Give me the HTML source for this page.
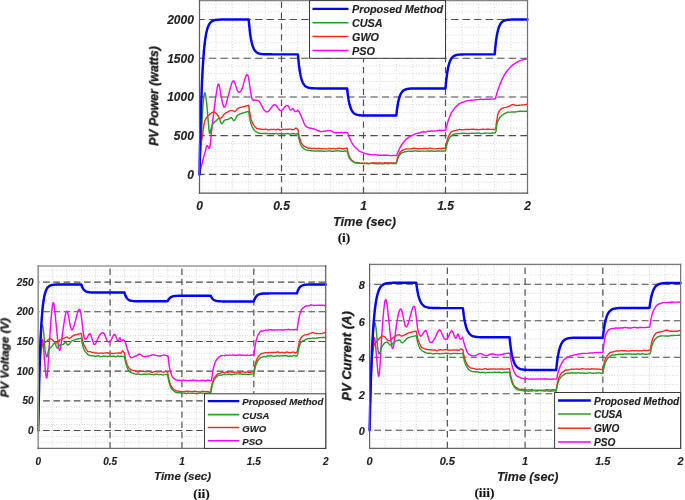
<!DOCTYPE html>
<html><head><meta charset="utf-8"><title>PV charts</title>
<style>
html,body{margin:0;padding:0;background:#fff;width:685px;height:500px;overflow:hidden}
svg{display:block}
text{font-family:"Liberation Sans",sans-serif;font-weight:bold;font-style:italic;fill:#222;stroke:#222;stroke-width:0.15px;filter:url(#nf)}
text.yl{fill:#1a1a1a;stroke:#1a1a1a;stroke-width:0.35px}
text.cap{font-family:"Liberation Serif",serif;font-style:normal;fill:#111}
.mn{stroke:#d2d2d2;stroke-width:1}
.mjh{stroke:#4d4d4d;stroke-width:1.15}
.mjv{stroke:#505050;stroke-width:1.2}
</style></head><body>
<svg width="685" height="500" viewBox="0 0 685 500">
<defs><filter id="nf" x="-5%" y="-20%" width="110%" height="140%"><feOffset dx="0" dy="0"/></filter></defs>
<rect width="685" height="500" fill="#fff"/>
<line x1="215.90" y1="193.20" x2="215.90" y2="0.60" class="mn" stroke-dasharray="0.9 1.95"/>
<line x1="232.30" y1="193.20" x2="232.30" y2="0.60" class="mn" stroke-dasharray="0.9 1.95"/>
<line x1="248.70" y1="193.20" x2="248.70" y2="0.60" class="mn" stroke-dasharray="0.9 1.95"/>
<line x1="265.10" y1="193.20" x2="265.10" y2="0.60" class="mn" stroke-dasharray="0.9 1.95"/>
<line x1="297.90" y1="193.20" x2="297.90" y2="0.60" class="mn" stroke-dasharray="0.9 1.95"/>
<line x1="314.30" y1="193.20" x2="314.30" y2="0.60" class="mn" stroke-dasharray="0.9 1.95"/>
<line x1="330.70" y1="193.20" x2="330.70" y2="0.60" class="mn" stroke-dasharray="0.9 1.95"/>
<line x1="347.10" y1="193.20" x2="347.10" y2="0.60" class="mn" stroke-dasharray="0.9 1.95"/>
<line x1="379.90" y1="193.20" x2="379.90" y2="0.60" class="mn" stroke-dasharray="0.9 1.95"/>
<line x1="396.30" y1="193.20" x2="396.30" y2="0.60" class="mn" stroke-dasharray="0.9 1.95"/>
<line x1="412.70" y1="193.20" x2="412.70" y2="0.60" class="mn" stroke-dasharray="0.9 1.95"/>
<line x1="429.10" y1="193.20" x2="429.10" y2="0.60" class="mn" stroke-dasharray="0.9 1.95"/>
<line x1="461.90" y1="193.20" x2="461.90" y2="0.60" class="mn" stroke-dasharray="0.9 1.95"/>
<line x1="478.30" y1="193.20" x2="478.30" y2="0.60" class="mn" stroke-dasharray="0.9 1.95"/>
<line x1="494.70" y1="193.20" x2="494.70" y2="0.60" class="mn" stroke-dasharray="0.9 1.95"/>
<line x1="511.10" y1="193.20" x2="511.10" y2="0.60" class="mn" stroke-dasharray="0.9 1.95"/>
<line x1="199.50" y1="189.89" x2="527.50" y2="189.89" class="mn" stroke-dasharray="0.9 1.95"/>
<line x1="199.50" y1="182.15" x2="527.50" y2="182.15" class="mn" stroke-dasharray="0.9 1.95"/>
<line x1="199.50" y1="174.40" x2="527.50" y2="174.40" class="mn" stroke-dasharray="0.9 1.95"/>
<line x1="199.50" y1="166.66" x2="527.50" y2="166.66" class="mn" stroke-dasharray="0.9 1.95"/>
<line x1="199.50" y1="158.91" x2="527.50" y2="158.91" class="mn" stroke-dasharray="0.9 1.95"/>
<line x1="199.50" y1="151.16" x2="527.50" y2="151.16" class="mn" stroke-dasharray="0.9 1.95"/>
<line x1="199.50" y1="143.42" x2="527.50" y2="143.42" class="mn" stroke-dasharray="0.9 1.95"/>
<line x1="199.50" y1="135.68" x2="527.50" y2="135.68" class="mn" stroke-dasharray="0.9 1.95"/>
<line x1="199.50" y1="127.93" x2="527.50" y2="127.93" class="mn" stroke-dasharray="0.9 1.95"/>
<line x1="199.50" y1="120.19" x2="527.50" y2="120.19" class="mn" stroke-dasharray="0.9 1.95"/>
<line x1="199.50" y1="112.44" x2="527.50" y2="112.44" class="mn" stroke-dasharray="0.9 1.95"/>
<line x1="199.50" y1="104.70" x2="527.50" y2="104.70" class="mn" stroke-dasharray="0.9 1.95"/>
<line x1="199.50" y1="96.95" x2="527.50" y2="96.95" class="mn" stroke-dasharray="0.9 1.95"/>
<line x1="199.50" y1="89.20" x2="527.50" y2="89.20" class="mn" stroke-dasharray="0.9 1.95"/>
<line x1="199.50" y1="81.46" x2="527.50" y2="81.46" class="mn" stroke-dasharray="0.9 1.95"/>
<line x1="199.50" y1="73.72" x2="527.50" y2="73.72" class="mn" stroke-dasharray="0.9 1.95"/>
<line x1="199.50" y1="65.97" x2="527.50" y2="65.97" class="mn" stroke-dasharray="0.9 1.95"/>
<line x1="199.50" y1="58.22" x2="527.50" y2="58.22" class="mn" stroke-dasharray="0.9 1.95"/>
<line x1="199.50" y1="50.48" x2="527.50" y2="50.48" class="mn" stroke-dasharray="0.9 1.95"/>
<line x1="199.50" y1="42.73" x2="527.50" y2="42.73" class="mn" stroke-dasharray="0.9 1.95"/>
<line x1="199.50" y1="34.99" x2="527.50" y2="34.99" class="mn" stroke-dasharray="0.9 1.95"/>
<line x1="199.50" y1="27.25" x2="527.50" y2="27.25" class="mn" stroke-dasharray="0.9 1.95"/>
<line x1="199.50" y1="19.50" x2="527.50" y2="19.50" class="mn" stroke-dasharray="0.9 1.95"/>
<line x1="199.50" y1="11.75" x2="527.50" y2="11.75" class="mn" stroke-dasharray="0.9 1.95"/>
<line x1="199.50" y1="4.01" x2="527.50" y2="4.01" class="mn" stroke-dasharray="0.9 1.95"/>
<line x1="199.50" y1="174.40" x2="527.50" y2="174.40" class="mjh" stroke-dasharray="7.2 4.33" stroke-dashoffset="2.03"/>
<line x1="199.50" y1="135.68" x2="527.50" y2="135.68" class="mjh" stroke-dasharray="7.2 4.33" stroke-dashoffset="2.03"/>
<line x1="199.50" y1="96.95" x2="527.50" y2="96.95" class="mjh" stroke-dasharray="7.2 4.33" stroke-dashoffset="2.03"/>
<line x1="199.50" y1="58.22" x2="527.50" y2="58.22" class="mjh" stroke-dasharray="7.2 4.33" stroke-dashoffset="2.03"/>
<line x1="199.50" y1="19.50" x2="527.50" y2="19.50" class="mjh" stroke-dasharray="7.2 4.33" stroke-dashoffset="2.03"/>
<line x1="281.50" y1="193.20" x2="281.50" y2="0.60" class="mjv" stroke-dasharray="6.4 4.5" stroke="#4d4d4d" stroke-width="1.15"/>
<line x1="363.50" y1="193.20" x2="363.50" y2="0.60" class="mjv" stroke-dasharray="6.4 4.5" stroke="#4d4d4d" stroke-width="1.15"/>
<line x1="445.50" y1="193.20" x2="445.50" y2="0.60" class="mjv" stroke-dasharray="6.4 4.5" stroke="#4d4d4d" stroke-width="1.15"/>
<path d="M199.5 173.63L200.04 171.51L200.58 169.36L201.12 167.18L201.66 164.99L202.21 162.82L202.75 160.67L203.29 158.58L203.83 156.56L204.37 154.62L204.91 152.79L205.16 151.78L205.4 150.74L205.65 149.71L205.9 148.71L206.14 147.79L206.39 146.99L206.63 146.33L206.88 145.85L207.13 145.59L207.37 145.59L207.6 145.8L207.83 146.17L208.06 146.63L208.29 147.13L208.52 147.62L208.75 148.04L208.98 148.34L209.21 148.47L209.44 148.37L209.67 147.99L209.83 147.41L210 146.49L210.16 145.29L210.32 143.85L210.49 142.24L210.65 140.51L210.82 138.73L210.98 136.94L211.14 135.21L211.31 133.58L211.55 131.3L211.8 129.07L212.05 126.91L212.29 124.8L212.54 122.74L212.78 120.71L213.03 118.71L213.28 116.74L213.52 114.78L213.77 112.83L213.98 111.12L214.19 109.39L214.41 107.65L214.62 105.92L214.83 104.19L215.05 102.49L215.26 100.83L215.47 99.21L215.69 97.66L215.9 96.18L216.16 94.39L216.42 92.62L216.69 90.9L216.95 89.28L217.21 87.81L217.47 86.51L217.74 85.44L218 84.64L218.26 84.15L218.52 84.02L218.79 84.28L219.05 84.91L219.31 85.86L219.57 87.07L219.84 88.46L220.1 89.99L220.36 91.58L220.62 93.19L220.89 94.74L221.15 96.18L221.44 97.71L221.74 99.24L222.03 100.72L222.33 102.13L222.62 103.44L222.92 104.6L223.21 105.58L223.51 106.36L223.8 106.91L224.1 107.17L224.51 107.14L224.92 106.73L225.33 106L225.74 104.99L226.15 103.77L226.56 102.38L226.97 100.87L227.38 99.3L227.79 97.72L228.2 96.18L228.76 94.06L229.32 91.87L229.87 89.67L230.43 87.56L230.99 85.6L231.55 83.87L232.1 82.46L232.66 81.43L233.22 80.86L233.78 80.84L234.17 81.24L234.56 82.01L234.96 83.07L235.35 84.31L235.74 85.68L236.14 87.06L236.53 88.4L236.92 89.59L237.32 90.56L237.71 91.22L238.11 91.63L238.5 91.91L238.89 92.05L239.29 92.07L239.68 91.97L240.07 91.74L240.47 91.38L240.86 90.9L241.25 90.31L241.65 89.59L242.25 88.13L242.86 86.25L243.47 84.11L244.08 81.86L244.68 79.67L245.29 77.7L245.9 76.1L246.5 75.05L247.11 74.69L247.72 75.19L248.14 76.31L248.57 78.17L249 80.59L249.42 83.39L249.85 86.41L250.27 89.46L250.7 92.36L251.13 94.94L251.55 97.02L251.98 98.42L252.28 99.04L252.57 99.51L252.87 99.85L253.16 100.08L253.46 100.22L253.75 100.29L254.05 100.3L254.34 100.28L254.64 100.24L254.93 100.2L255.37 100.17L255.82 100.16L256.26 100.18L256.7 100.24L257.15 100.34L257.59 100.49L258.03 100.7L258.47 100.96L258.92 101.28L259.36 101.67L259.87 102.27L260.38 103.05L260.89 103.96L261.39 104.97L261.9 106.02L262.41 107.07L262.92 108.09L263.43 109.01L263.94 109.81L264.44 110.43L264.76 110.73L265.07 111L265.38 111.24L265.69 111.45L266 111.62L266.31 111.75L266.63 111.84L266.94 111.88L267.25 111.88L267.56 111.82L268.28 111.46L269 110.8L269.72 109.92L270.45 108.91L271.17 107.85L271.89 106.82L272.61 105.9L273.33 105.17L274.05 104.72L274.78 104.62L275.37 104.85L275.96 105.34L276.55 106.03L277.14 106.83L277.73 107.7L278.32 108.55L278.91 109.34L279.5 109.98L280.09 110.42L280.68 110.58L281.4 110.41L282.12 109.93L282.84 109.23L283.57 108.41L284.29 107.55L285.01 106.73L285.73 106.06L286.45 105.62L287.17 105.5L287.9 105.78L288.19 106.07L288.49 106.5L288.78 107.03L289.08 107.61L289.37 108.2L289.67 108.78L289.96 109.29L290.26 109.7L290.55 109.96L290.85 110.04L291.03 109.99L291.21 109.87L291.39 109.7L291.57 109.51L291.75 109.3L291.93 109.08L292.11 108.89L292.29 108.73L292.47 108.61L292.65 108.57L292.9 108.63L293.14 108.82L293.39 109.11L293.64 109.47L293.88 109.87L294.13 110.29L294.37 110.69L294.62 111.05L294.87 111.33L295.11 111.51L295.39 111.6L295.67 111.62L295.95 111.56L296.23 111.44L296.51 111.27L296.78 111.06L297.06 110.82L297.34 110.56L297.62 110.3L297.9 110.04L298.1 110.35L298.29 110.66L298.49 110.96L298.69 111.26L298.88 111.56L299.08 111.87L299.28 112.18L299.47 112.51L299.67 112.85L299.87 113.21L300.16 113.8L300.46 114.44L300.75 115.12L301.05 115.84L301.34 116.57L301.64 117.31L301.93 118.06L302.23 118.79L302.52 119.5L302.82 120.19L303.07 120.75L303.31 121.35L303.56 121.95L303.8 122.55L304.05 123.14L304.3 123.71L304.54 124.23L304.79 124.71L305.03 125.12L305.28 125.45L305.53 125.74L305.77 126L306.02 126.25L306.26 126.49L306.51 126.7L306.76 126.9L307 127.07L307.25 127.23L307.49 127.36L307.74 127.47L308.31 127.67L308.89 127.84L309.46 127.98L310.04 128.1L310.61 128.21L311.18 128.31L311.76 128.41L312.33 128.52L312.91 128.64L313.48 128.78L314.28 129.03L315.09 129.34L315.89 129.69L316.69 130.05L317.5 130.41L318.3 130.75L319.11 131.04L319.91 131.28L320.71 131.44L321.52 131.49L322.32 131.47L323.12 131.4L323.93 131.29L324.73 131.17L325.53 131.03L326.34 130.89L327.14 130.76L327.94 130.66L328.75 130.59L329.55 130.56L330.19 130.63L330.83 130.8L331.47 131.05L332.11 131.35L332.75 131.69L333.39 132.02L334.03 132.32L334.67 132.58L335.31 132.75L335.95 132.81L336.75 132.8L337.56 132.77L338.36 132.73L339.16 132.67L339.97 132.62L340.77 132.56L341.57 132.51L342.38 132.46L343.18 132.43L343.98 132.42L344.26 132.43L344.54 132.43L344.82 132.45L345.1 132.46L345.38 132.48L345.66 132.5L345.94 132.52L346.21 132.54L346.49 132.56L346.77 132.58L347.1 132.58L347.59 132.57L348.09 134.11L348.59 135.55L349.08 136.9L349.58 138.14L350.08 139.27L350.57 140.3L351.07 141.28L351.57 142.23L352.07 143.13L352.56 143.98L353.06 144.75L353.56 145.44L354.05 146.05L354.55 146.62L355.05 147.18L355.54 147.7L356.04 148.14L356.54 148.56L357.04 148.99L357.53 149.48L358.03 150L358.53 150.48L359.02 150.85L359.52 151.14L360.02 151.39L360.51 151.64L361.01 151.88L361.51 152.1L362.01 152.3L362.5 152.48L363 152.67L363.5 152.89L363.99 153.13L364.49 153.34L364.99 153.49L365.48 153.62L365.98 153.73L366.48 153.83L366.98 153.94L367.47 154.03L367.97 154.1L368.47 154.17L368.96 154.25L369.46 154.37L369.96 154.49L370.45 154.6L370.95 154.67L371.45 154.74L371.95 154.82L372.44 154.89L372.94 154.93L373.44 154.89L373.93 154.81L374.43 154.77L374.93 154.8L375.43 154.82L375.92 154.84L376.42 154.86L376.92 154.91L377.41 155.04L377.91 155.19L378.41 155.3L378.9 155.32L379.4 155.32L379.9 155.31L380.4 155.31L380.89 155.31L381.39 155.26L381.89 155.2L382.38 155.17L382.88 155.18L383.38 155.21L383.87 155.24L384.37 155.26L384.87 155.27L385.37 155.28L385.86 155.28L386.36 155.29L386.86 155.3L387.35 155.32L387.85 155.35L388.35 155.36L388.84 155.4L389.34 155.5L389.84 155.61L390.34 155.67L390.83 155.66L391.33 155.65L391.83 155.63L392.32 155.62L392.82 155.61L393.32 155.56L393.81 155.5L394.31 155.48L394.81 155.5L395.31 155.53L395.8 155.57L396.3 155.58L396.3 155.5L396.63 155.51L397.12 154.19L397.62 152.94L398.11 151.76L398.6 150.64L399.1 149.57L399.59 148.56L400.08 147.6L400.58 146.71L401.07 145.91L401.56 145.16L402.06 144.44L402.55 143.71L403.05 142.96L403.54 142.24L404.03 141.58L404.53 141.01L405.02 140.48L405.51 139.98L406.01 139.5L406.5 139.04L406.99 138.61L407.49 138.2L407.98 137.81L408.48 137.46L408.97 137.19L409.46 136.94L409.96 136.68L410.45 136.36L410.94 135.99L411.44 135.63L411.93 135.32L412.43 135.1L412.92 134.93L413.41 134.78L413.91 134.61L414.4 134.4L414.89 134.14L415.39 133.87L415.88 133.66L416.37 133.51L416.87 133.41L417.36 133.32L417.86 133.21L418.35 133.1L418.84 133.05L419.34 133.02L419.83 132.95L420.32 132.77L420.82 132.45L421.31 132.11L421.8 131.89L422.3 131.84L422.79 131.89L423.29 131.97L423.78 131.97L424.27 131.95L424.77 132.04L425.26 132.15L425.75 132.17L426.25 132.03L426.74 131.72L427.23 131.39L427.73 131.2L428.22 131.19L428.72 131.28L429.21 131.38L429.7 131.41L430.2 131.32L430.69 131.17L431.18 131.01L431.68 130.91L432.17 130.91L432.66 130.98L433.16 131.05L433.65 131.07L434.15 131.05L434.64 131.07L435.13 131.09L435.63 131.08L436.12 130.98L436.61 130.77L437.11 130.54L437.6 130.43L438.1 130.4L438.59 130.36L439.08 130.33L439.58 130.3L440.07 130.31L440.56 130.37L441.06 130.44L441.55 130.46L442.04 130.42L442.54 130.38L443.03 130.33L443.53 130.3L444.02 130.27L444.51 130.25L445.01 130.22L445.5 130.2L445.5 130.11L445.66 130.11L446.16 128.02L446.65 126.08L447.15 124.27L447.65 122.59L448.14 121.01L448.64 119.52L449.13 118.12L449.63 116.84L450.12 115.63L450.62 114.5L451.11 113.45L451.61 112.5L452.1 111.71L452.6 111.02L453.09 110.36L453.59 109.65L454.08 108.94L454.58 108.27L455.07 107.65L455.57 107.1L456.07 106.6L456.56 106.14L457.06 105.71L457.55 105.29L458.05 104.8L458.54 104.3L459.04 103.86L459.53 103.54L460.03 103.3L460.52 103.1L461.02 102.89L461.51 102.67L462.01 102.48L462.5 102.32L463 102.16L463.5 101.98L463.99 101.8L464.49 101.62L464.98 101.46L465.48 101.31L465.97 101.13L466.47 100.94L466.96 100.78L467.46 100.68L467.95 100.63L468.45 100.6L468.94 100.56L469.44 100.48L469.93 100.39L470.43 100.32L470.92 100.24L471.42 100.19L471.92 100.17L472.41 100.17L472.91 100.14L473.4 100.09L473.9 100L474.39 99.91L474.89 99.84L475.38 99.8L475.88 99.76L476.37 99.73L476.87 99.69L477.36 99.66L477.86 99.62L478.35 99.58L478.85 99.54L479.35 99.5L479.84 99.41L480.34 99.31L480.83 99.25L481.33 99.27L481.82 99.4L482.32 99.55L482.81 99.61L483.31 99.56L483.8 99.46L484.3 99.35L484.79 99.28L485.29 99.27L485.78 99.26L486.28 99.26L486.77 99.25L487.27 99.24L487.77 99.26L488.26 99.29L488.76 99.29L489.25 99.25L489.75 99.17L490.24 99.09L490.74 99.05L491.23 99.05L491.73 99.08L492.22 99.11L492.72 99.11L493.21 99.07L493.71 99L494.2 98.93L494.7 98.89L495.36 98.89L495.85 96.99L496.35 95.17L496.84 93.43L497.33 91.81L497.83 90.31L498.32 88.88L498.82 87.47L499.31 86.12L499.81 84.83L500.3 83.57L500.8 82.37L501.29 81.21L501.78 80.08L502.28 79.01L502.77 78L503.27 76.99L503.76 75.99L504.26 75.06L504.75 74.22L505.25 73.46L505.74 72.75L506.24 72.07L506.73 71.38L507.22 70.72L507.72 70.09L508.21 69.49L508.71 68.92L509.2 68.38L509.7 67.87L510.19 67.38L510.69 66.9L511.18 66.43L511.68 65.98L512.17 65.55L512.66 65.15L513.16 64.77L513.65 64.4L514.15 64.05L514.64 63.71L515.14 63.38L515.63 63.06L516.13 62.75L516.62 62.47L517.12 62.17L517.61 61.88L518.1 61.61L518.6 61.37L519.09 61.11L519.59 60.86L520.08 60.62L520.58 60.44L521.07 60.34L521.57 60.27L522.06 60.17L522.55 60.01L523.05 59.85L523.54 59.69L524.04 59.54L524.53 59.41L525.03 59.29L525.52 59.18L526.02 59.08L526.51 58.97L527.01 58.86L527.5 58.76" fill="none" stroke="#ff00ff" stroke-width="1.4" stroke-linejoin="round" stroke-linecap="round"/>
<path d="M199.5 174.4L199.6 171.98L199.7 169.41L199.8 166.76L199.89 164.08L199.99 161.45L200.09 158.92L200.19 156.57L200.29 154.45L200.39 152.62L200.48 151.16L200.68 148.8L200.88 146.72L201.07 144.87L201.27 143.22L201.47 141.73L201.66 140.35L201.86 139.05L202.06 137.79L202.26 136.52L202.45 135.21L202.7 133.5L202.94 131.74L203.19 129.99L203.44 128.27L203.68 126.63L203.93 125.09L204.17 123.71L204.42 122.5L204.67 121.53L204.91 120.8L205.39 119.75L205.86 118.82L206.34 118L206.81 117.27L207.29 116.64L207.77 116.08L208.24 115.59L208.72 115.14L209.19 114.75L209.67 114.38L210.13 114.03L210.59 113.68L211.05 113.35L211.5 113.03L211.96 112.74L212.42 112.49L212.88 112.28L213.34 112.11L213.8 112.01L214.26 111.98L214.56 112.03L214.85 112.17L215.15 112.38L215.44 112.66L215.74 112.98L216.03 113.34L216.33 113.71L216.62 114.08L216.92 114.43L217.21 114.76L217.51 115.11L217.8 115.52L218.1 115.97L218.39 116.44L218.69 116.89L218.98 117.32L219.28 117.69L219.57 117.99L219.87 118.18L220.16 118.25L220.64 118.15L221.12 117.86L221.59 117.43L222.07 116.9L222.54 116.3L223.02 115.66L223.49 115.04L223.97 114.46L224.44 113.97L224.92 113.6L225.64 113.15L226.36 112.7L227.08 112.26L227.81 111.84L228.53 111.45L229.25 111.11L229.97 110.83L230.69 110.61L231.41 110.47L232.14 110.43L232.37 110.46L232.6 110.54L232.82 110.66L233.05 110.81L233.28 110.97L233.51 111.13L233.74 111.28L233.97 111.4L234.2 111.48L234.43 111.51L234.84 111.43L235.25 111.2L235.66 110.86L236.07 110.45L236.48 109.98L236.89 109.5L237.3 109.03L237.71 108.6L238.12 108.26L238.53 108.03L239.06 107.82L239.58 107.65L240.11 107.5L240.63 107.36L241.16 107.24L241.68 107.12L242.21 107.01L242.73 106.89L243.26 106.77L243.78 106.63L244.24 106.5L244.7 106.37L245.16 106.24L245.62 106.11L246.08 105.98L246.54 105.85L246.99 105.71L247.45 105.58L247.91 105.45L248.37 105.31L248.7 105.31L249.19 109.06L249.68 112.24L250.18 114.96L250.67 117.26L251.16 119.18L251.65 120.75L252.14 122.04L252.64 123.16L253.13 124.13L253.62 124.94L254.11 125.63L254.6 126.22L255.1 126.79L255.59 127.37L256.08 127.88L256.57 128.24L257.06 128.46L257.56 128.58L258.05 128.66L258.54 128.77L259.03 128.89L259.52 128.99L260.02 129.06L260.51 129.13L261 129.2L261.49 129.26L261.98 129.31L262.48 129.36L262.97 129.39L263.46 129.42L263.95 129.44L264.44 129.46L264.94 129.42L265.43 129.28L265.92 129.14L266.41 129.09L266.9 129.23L267.4 129.55L267.89 129.86L268.38 130L268.87 129.92L269.36 129.73L269.86 129.54L270.35 129.46L270.84 129.44L271.33 129.4L271.82 129.35L272.32 129.33L272.81 129.35L273.3 129.4L273.79 129.45L274.28 129.47L274.78 129.51L275.27 129.61L275.76 129.71L276.25 129.75L276.74 129.67L277.24 129.47L277.73 129.27L278.22 129.19L278.71 129.33L279.2 129.67L279.7 130.01L280.19 130.15L280.68 130.04L281.17 129.79L281.66 129.53L282.16 129.42L282.65 129.4L283.14 129.37L283.63 129.33L284.12 129.31L284.62 129.33L285.11 129.35L285.6 129.38L286.09 129.39L286.58 129.37L287.08 129.3L287.57 129.24L288.06 129.21L288.55 129.2L289.04 129.17L289.54 129.14L290.03 129.13L290.52 129.19L291.01 129.33L291.5 129.47L292 129.53L292.49 129.52L292.98 129.49L293.47 129.45L293.96 129.34L294.46 129.1L294.95 128.7L295.44 128.28L295.93 128.1L296.42 128.31L296.92 128.79L297.41 129.26L297.9 129.52L297.9 129.35L298.39 132.38L298.88 134.89L299.38 136.98L299.87 138.75L300.36 140.26L300.85 141.58L301.34 142.71L301.84 143.65L302.33 144.42L302.82 145.03L303.31 145.52L303.8 145.96L304.3 146.3L304.79 146.48L305.28 146.62L305.77 146.8L306.26 147.09L306.76 147.48L307.25 147.84L307.74 148.05L308.23 148.11L308.72 148.07L309.22 148.03L309.71 148.04L310.2 148.16L310.69 148.37L311.18 148.57L311.68 148.67L312.17 148.62L312.66 148.48L313.15 148.33L313.64 148.27L314.14 148.33L314.63 148.43L315.12 148.54L315.61 148.59L316.1 148.57L316.6 148.53L317.09 148.49L317.58 148.47L318.07 148.46L318.56 148.43L319.06 148.4L319.55 148.39L320.04 148.44L320.53 148.56L321.02 148.67L321.52 148.72L322.01 148.74L322.5 148.79L322.99 148.85L323.48 148.87L323.98 148.86L324.47 148.83L324.96 148.79L325.45 148.78L325.94 148.8L326.44 148.84L326.93 148.88L327.42 148.89L327.91 148.83L328.4 148.67L328.9 148.52L329.39 148.45L329.88 148.5L330.37 148.6L330.86 148.71L331.36 148.75L331.85 148.71L332.34 148.61L332.83 148.5L333.32 148.46L333.82 148.5L334.31 148.61L334.8 148.72L335.29 148.76L335.78 148.73L336.28 148.63L336.77 148.54L337.26 148.5L337.75 148.45L338.24 148.33L338.74 148.21L339.23 148.16L339.72 148.2L340.21 148.31L340.7 148.42L341.2 148.46L341.69 148.55L342.18 148.75L342.67 148.95L343.16 149.04L343.66 148.94L344.15 148.69L344.64 148.44L345.13 148.34L345.62 148.33L346.12 148.3L346.61 148.27L347.1 148.26L347.1 148.53L347.6 150.76L348.09 152.63L348.59 154.19L349.09 155.51L349.58 156.66L350.08 157.72L350.58 158.66L351.08 159.41L351.57 159.99L352.07 160.45L352.57 160.82L353.06 161.16L353.56 161.55L354.06 161.98L354.55 162.36L355.05 162.59L355.55 162.64L356.05 162.56L356.54 162.49L357.04 162.53L357.54 162.65L358.03 162.79L358.53 162.91L359.03 162.97L359.52 163.05L360.02 163.15L360.52 163.24L361.02 163.27L361.51 163.27L362.01 163.24L362.51 163.22L363 163.22L363.5 163.21L364 163.19L364.49 163.18L364.99 163.18L365.49 163.16L365.98 163.12L366.48 163.1L366.98 163.1L367.48 163.21L367.97 163.36L368.47 163.48L368.97 163.49L369.46 163.43L369.96 163.34L370.46 163.27L370.95 163.25L371.45 163.11L371.95 162.92L372.45 162.79L372.94 162.78L373.44 162.84L373.94 162.93L374.43 162.98L374.93 162.99L375.43 162.97L375.92 162.95L376.42 162.94L376.92 162.94L377.42 162.92L377.91 162.89L378.41 162.87L378.91 162.87L379.4 162.89L379.9 162.91L380.4 162.92L380.89 162.94L381.39 163L381.89 163.08L382.38 163.13L382.88 163.1L383.38 162.98L383.88 162.83L384.37 162.75L384.87 162.76L385.37 162.8L385.86 162.86L386.36 162.88L386.86 162.89L387.35 162.9L387.85 162.91L388.35 162.91L388.85 162.93L389.34 162.99L389.84 163.06L390.34 163.09L390.83 163.07L391.33 163.01L391.83 162.95L392.32 162.92L392.82 162.92L393.32 162.92L393.82 162.91L394.31 162.91L394.81 162.94L395.31 163.02L395.8 163.1L396.3 163.13L396.3 163.09L396.79 160.86L397.28 158.95L397.78 157.32L398.27 155.94L398.76 154.79L399.25 153.82L399.74 153.01L400.24 152.32L400.73 151.74L401.22 151.26L401.71 150.88L402.2 150.53L402.7 150.22L403.19 149.95L403.68 149.72L404.17 149.53L404.66 149.36L405.16 149.2L405.65 149.05L406.14 148.95L406.63 148.89L407.12 148.89L407.62 148.89L408.11 148.87L408.6 148.84L409.09 148.85L409.58 148.85L410.08 148.84L410.57 148.82L411.06 148.78L411.55 148.74L412.04 148.72L412.54 148.63L413.03 148.43L413.52 148.22L414.01 148.14L414.5 148.19L415 148.31L415.49 148.44L415.98 148.5L416.47 148.54L416.96 148.64L417.46 148.74L417.95 148.79L418.44 148.77L418.93 148.73L419.42 148.68L419.92 148.67L420.41 148.67L420.9 148.67L421.39 148.67L421.88 148.67L422.38 148.64L422.87 148.57L423.36 148.5L423.85 148.47L424.34 148.46L424.84 148.44L425.33 148.42L425.82 148.42L426.31 148.44L426.8 148.5L427.3 148.57L427.79 148.59L428.28 148.52L428.77 148.35L429.26 148.18L429.76 148.11L430.25 148.15L430.74 148.25L431.23 148.34L431.72 148.38L432.22 148.45L432.71 148.62L433.2 148.78L433.69 148.85L434.18 148.85L434.68 148.85L435.17 148.86L435.66 148.86L436.15 148.83L436.64 148.76L437.14 148.69L437.63 148.67L438.12 148.63L438.61 148.56L439.1 148.48L439.6 148.45L440.09 148.45L440.58 148.44L441.07 148.43L441.56 148.43L442.06 148.4L442.55 148.33L443.04 148.26L443.53 148.24L444.02 148.24L444.52 148.24L445.01 148.24L445.5 148.24L445.5 148.53L445.99 145.6L446.48 143.11L446.98 141L447.47 139.21L447.96 137.72L448.45 136.53L448.94 135.56L449.44 134.71L449.93 133.9L450.42 133.1L450.91 132.38L451.4 131.85L451.9 131.51L452.39 131.33L452.88 131.19L453.37 131.02L453.86 130.83L454.36 130.69L454.85 130.59L455.34 130.48L455.83 130.35L456.32 130.22L456.82 130.1L457.31 130.02L457.8 129.91L458.29 129.75L458.78 129.59L459.28 129.51L459.77 129.52L460.26 129.59L460.75 129.66L461.24 129.68L461.74 129.69L462.23 129.75L462.72 129.81L463.21 129.83L463.7 129.77L464.2 129.63L464.69 129.5L465.18 129.44L465.67 129.44L466.16 129.45L466.66 129.46L467.15 129.46L467.64 129.46L468.13 129.48L468.62 129.5L469.12 129.5L469.61 129.48L470.1 129.42L470.59 129.36L471.08 129.33L471.58 129.3L472.07 129.24L472.56 129.18L473.05 129.15L473.54 129.21L474.04 129.34L474.53 129.48L475.02 129.53L475.51 129.53L476 129.52L476.5 129.51L476.99 129.51L477.48 129.53L477.97 129.6L478.46 129.67L478.96 129.69L479.45 129.64L479.94 129.52L480.43 129.39L480.92 129.34L481.42 129.33L481.91 129.3L482.4 129.26L482.89 129.25L483.38 129.27L483.88 129.32L484.37 129.37L484.86 129.39L485.35 129.38L485.84 129.34L486.34 129.3L486.83 129.29L487.32 129.29L487.81 129.29L488.3 129.3L488.8 129.3L489.29 129.31L489.78 129.33L490.27 129.35L490.76 129.36L491.26 129.36L491.75 129.35L492.24 129.34L492.73 129.33L493.22 129.36L493.72 129.44L494.21 129.52L494.7 129.55L494.7 129.4L494.78 129.34L494.86 129.28L494.95 129.22L495.03 129.17L495.11 129.11L495.19 129.05L495.27 128.98L495.36 128.9L495.44 128.81L495.52 128.7L495.65 128.37L495.78 127.79L495.91 127.01L496.04 126.07L496.18 125.03L496.31 123.93L496.44 122.84L496.57 121.79L496.7 120.84L496.83 120.03L497 119.12L497.16 118.21L497.32 117.29L497.49 116.4L497.65 115.56L497.82 114.76L497.98 114.05L498.14 113.42L498.31 112.91L498.47 112.52L498.83 111.85L499.19 111.26L499.55 110.73L499.92 110.26L500.28 109.85L500.64 109.49L501 109.18L501.36 108.91L501.72 108.68L502.08 108.49L502.57 108.27L503.06 108.09L503.56 107.93L504.05 107.8L504.54 107.67L505.03 107.56L505.52 107.44L506.02 107.32L506.51 107.18L507 107.02L507.33 106.9L507.66 106.77L507.98 106.63L508.31 106.49L508.64 106.34L508.97 106.19L509.3 106.05L509.62 105.9L509.95 105.76L510.28 105.62L510.56 105.5L510.84 105.37L511.12 105.22L511.4 105.08L511.67 104.94L511.95 104.81L512.23 104.7L512.51 104.62L512.79 104.56L513.07 104.54L513.36 104.57L513.66 104.64L513.95 104.74L514.25 104.87L514.54 105L514.84 105.14L515.13 105.27L515.43 105.37L515.72 105.44L516.02 105.47L516.35 105.47L516.68 105.45L517 105.44L517.33 105.41L517.66 105.39L517.99 105.36L518.32 105.33L518.64 105.29L518.97 105.26L519.3 105.24L519.56 105.22L519.82 105.19L520.09 105.17L520.35 105.15L520.61 105.13L520.87 105.1L521.14 105.08L521.4 105.05L521.66 105.03L521.92 105L522.24 104.98L522.55 104.95L522.86 104.92L523.17 104.9L523.48 104.87L523.79 104.84L524.11 104.81L524.42 104.78L524.73 104.74L525.04 104.7L525.29 104.65L525.53 104.6L525.78 104.53L526.02 104.46L526.27 104.39L526.52 104.31L526.76 104.23L527.01 104.15L527.25 104.07L527.5 104" fill="none" stroke="#ff2a2a" stroke-width="1.4" stroke-linejoin="round" stroke-linecap="round"/>
<path d="M199.5 174.4L199.7 170.34L199.89 166.24L200.09 162.11L200.29 157.97L200.48 153.84L200.68 149.75L200.88 145.71L201.07 141.75L201.27 137.88L201.47 134.13L201.66 130.31L201.86 126.33L202.06 122.27L202.26 118.23L202.45 114.31L202.65 110.62L202.85 107.25L203.04 104.29L203.24 101.86L203.44 100.05L203.58 98.95L203.73 97.88L203.88 96.85L204.03 95.9L204.17 95.03L204.32 94.27L204.47 93.64L204.62 93.17L204.76 92.87L204.91 92.77L205.08 92.92L205.24 93.36L205.4 94.04L205.57 94.93L205.73 95.99L205.9 97.17L206.06 98.44L206.22 99.75L206.39 101.08L206.55 102.37L206.72 103.77L206.88 105.42L207.04 107.24L207.21 109.21L207.37 111.25L207.54 113.34L207.7 115.4L207.86 117.39L208.03 119.26L208.19 120.96L208.34 122.48L208.49 124.11L208.63 125.8L208.78 127.47L208.93 129.07L209.08 130.52L209.23 131.76L209.37 132.73L209.52 133.36L209.67 133.58L209.8 133.49L209.93 133.25L210.06 132.87L210.19 132.39L210.32 131.85L210.46 131.26L210.59 130.66L210.72 130.08L210.85 129.55L210.98 129.09L211.14 128.57L211.31 128.04L211.47 127.51L211.64 126.98L211.8 126.46L211.96 125.97L212.13 125.52L212.29 125.11L212.46 124.75L212.62 124.44L212.95 123.94L213.28 123.49L213.6 123.09L213.93 122.73L214.26 122.4L214.59 122.1L214.92 121.81L215.24 121.53L215.57 121.25L215.9 120.96L216.23 120.65L216.56 120.32L216.88 119.97L217.21 119.64L217.54 119.31L217.87 119.02L218.2 118.77L218.52 118.58L218.85 118.45L219.18 118.4L219.43 118.55L219.67 118.95L219.92 119.54L220.16 120.26L220.41 121.04L220.66 121.82L220.9 122.53L221.15 123.12L221.39 123.52L221.64 123.67L221.97 123.58L222.3 123.33L222.62 122.96L222.95 122.51L223.28 122.01L223.61 121.5L223.94 121L224.26 120.57L224.59 120.24L224.92 120.03L225.25 119.91L225.58 119.82L225.9 119.74L226.23 119.68L226.56 119.62L226.89 119.56L227.22 119.5L227.54 119.43L227.87 119.35L228.2 119.26L228.51 119.13L228.82 118.96L229.13 118.75L229.45 118.54L229.76 118.32L230.07 118.1L230.38 117.92L230.69 117.77L231 117.67L231.32 117.63L231.56 117.71L231.81 117.94L232.05 118.26L232.3 118.67L232.55 119.1L232.79 119.54L233.04 119.94L233.28 120.27L233.53 120.49L233.78 120.57L234.17 120.45L234.56 120.1L234.96 119.59L235.35 118.95L235.74 118.23L236.14 117.49L236.53 116.77L236.92 116.12L237.32 115.59L237.71 115.23L238.27 114.87L238.83 114.56L239.38 114.27L239.94 114.02L240.5 113.79L241.06 113.58L241.62 113.38L242.17 113.19L242.73 113.01L243.29 112.83L243.78 112.67L244.27 112.53L244.76 112.39L245.26 112.26L245.75 112.13L246.24 112.01L246.73 111.89L247.22 111.76L247.72 111.64L248.21 111.51L248.7 111.51L249.19 114.9L249.68 117.78L250.18 120.23L250.67 122.3L251.16 124.03L251.65 125.43L252.14 126.58L252.64 127.57L253.13 128.46L253.62 129.26L254.11 129.97L254.6 130.54L255.1 130.98L255.59 131.34L256.08 131.64L256.57 131.9L257.06 132.18L257.56 132.48L258.05 132.75L258.54 132.94L259.03 133.06L259.52 133.18L260.02 133.27L260.51 133.35L261 133.41L261.49 133.44L261.98 133.46L262.48 133.49L262.97 133.52L263.46 133.54L263.95 133.55L264.44 133.57L264.94 133.57L265.43 133.55L265.92 133.52L266.41 133.51L266.9 133.53L267.4 133.56L267.89 133.59L268.38 133.61L268.87 133.63L269.36 133.68L269.86 133.72L270.35 133.74L270.84 133.76L271.33 133.79L271.82 133.82L272.32 133.84L272.81 133.83L273.3 133.81L273.79 133.79L274.28 133.78L274.78 133.74L275.27 133.65L275.76 133.56L276.25 133.52L276.74 133.57L277.24 133.69L277.73 133.8L278.22 133.85L278.71 133.83L279.2 133.77L279.7 133.72L280.19 133.69L280.68 133.69L281.17 133.68L281.66 133.68L282.16 133.68L282.65 133.72L283.14 133.83L283.63 133.94L284.12 133.98L284.62 133.95L285.11 133.87L285.6 133.79L286.09 133.75L286.58 133.73L287.08 133.66L287.57 133.59L288.06 133.57L288.55 133.65L289.04 133.83L289.54 134.01L290.03 134.09L290.52 134.05L291.01 133.96L291.5 133.87L292 133.84L292.49 133.84L292.98 133.83L293.47 133.82L293.96 133.81L294.46 133.83L294.95 133.87L295.44 133.92L295.93 133.93L296.42 133.91L296.92 133.84L297.41 133.77L297.9 133.74L297.9 133.82L298.39 136.45L298.88 138.68L299.38 140.58L299.87 142.19L300.36 143.56L300.85 144.76L301.34 145.79L301.84 146.66L302.33 147.33L302.82 147.81L303.31 148.18L303.8 148.55L304.3 148.92L304.79 149.23L305.28 149.49L305.77 149.71L306.26 149.89L306.76 150.03L307.25 150.15L307.74 150.25L308.23 150.33L308.72 150.39L309.22 150.43L309.71 150.47L310.2 150.54L310.69 150.64L311.18 150.74L311.68 150.79L312.17 150.82L312.66 150.86L313.15 150.89L313.64 150.91L314.14 150.95L314.63 151.04L315.12 151.13L315.61 151.17L316.1 151.13L316.6 151.03L317.09 150.93L317.58 150.89L318.07 150.92L318.56 150.99L319.06 151.06L319.55 151.09L320.04 151.09L320.53 151.08L321.02 151.08L321.52 151.07L322.01 151.09L322.5 151.14L322.99 151.18L323.48 151.2L323.98 151.2L324.47 151.18L324.96 151.16L325.45 151.16L325.94 151.15L326.44 151.13L326.93 151.1L327.42 151.09L327.91 151.05L328.4 150.95L328.9 150.85L329.39 150.81L329.88 150.89L330.37 151.07L330.86 151.25L331.36 151.32L331.85 151.31L332.34 151.28L332.83 151.25L333.32 151.24L333.82 151.2L334.31 151.1L334.8 151.01L335.29 150.97L335.78 150.95L336.28 150.88L336.77 150.81L337.26 150.79L337.75 150.81L338.24 150.85L338.74 150.9L339.23 150.92L339.72 150.98L340.21 151.11L340.7 151.25L341.2 151.3L341.69 151.32L342.18 151.35L342.67 151.39L343.16 151.4L343.66 151.33L344.15 151.18L344.64 151.02L345.13 150.95L345.62 150.98L346.12 151.04L346.61 151.1L347.1 151.12L347.1 151.01L347.6 152.97L348.09 154.63L348.59 156.04L349.09 157.23L349.58 158.21L350.08 158.99L350.58 159.62L351.08 160.17L351.57 160.66L352.07 161.06L352.57 161.42L353.06 161.72L353.56 162.01L354.06 162.28L354.55 162.51L355.05 162.68L355.55 162.81L356.05 162.92L356.54 163.01L357.04 163.09L357.54 163.15L358.03 163.19L358.53 163.23L359.03 163.27L359.52 163.26L360.02 163.22L360.52 163.19L361.02 163.2L361.51 163.25L362.01 163.32L362.51 163.38L363 163.4L363.5 163.42L364 163.43L364.49 163.44L364.99 163.45L365.49 163.45L365.98 163.45L366.48 163.45L366.98 163.47L367.48 163.55L367.97 163.68L368.47 163.78L368.97 163.78L369.46 163.66L369.96 163.49L370.46 163.37L370.95 163.36L371.45 163.37L371.95 163.39L372.45 163.4L372.94 163.41L373.44 163.43L373.94 163.45L374.43 163.47L374.93 163.49L375.43 163.6L375.92 163.75L376.42 163.85L376.92 163.85L377.42 163.79L377.91 163.71L378.41 163.66L378.91 163.64L379.4 163.57L379.9 163.48L380.4 163.43L380.89 163.46L381.39 163.58L381.89 163.74L382.38 163.83L382.88 163.82L383.38 163.74L383.88 163.64L384.37 163.59L384.87 163.57L385.37 163.51L385.86 163.44L386.36 163.4L386.86 163.43L387.35 163.55L387.85 163.69L388.35 163.76L388.85 163.71L389.34 163.56L389.84 163.39L390.34 163.31L390.83 163.33L391.33 163.38L391.83 163.44L392.32 163.47L392.82 163.49L393.32 163.52L393.82 163.56L394.31 163.58L394.81 163.57L395.31 163.54L395.8 163.52L396.3 163.51L396.3 163.56L396.79 161.64L397.28 160.01L397.78 158.62L398.27 157.45L398.76 156.46L399.25 155.64L399.74 154.95L400.24 154.36L400.73 153.83L401.22 153.34L401.71 152.93L402.2 152.6L402.7 152.38L403.19 152.26L403.68 152.17L404.17 152.06L404.66 151.92L405.16 151.79L405.65 151.68L406.14 151.6L406.63 151.5L407.12 151.36L407.62 151.23L408.11 151.15L408.6 151.14L409.09 151.17L409.58 151.2L410.08 151.2L410.57 151.2L411.06 151.24L411.55 151.27L412.04 151.28L412.54 151.23L413.03 151.13L413.52 151.02L414.01 150.97L414.5 150.96L415 150.92L415.49 150.89L415.98 150.88L416.47 150.92L416.96 151.02L417.46 151.12L417.95 151.16L418.44 151.18L418.93 151.23L419.42 151.29L419.92 151.31L420.41 151.28L420.9 151.21L421.39 151.14L421.88 151.11L422.38 151.11L422.87 151.11L423.36 151.11L423.85 151.11L424.34 151.11L424.84 151.12L425.33 151.13L425.82 151.13L426.31 151.1L426.8 151L427.3 150.91L427.79 150.87L428.28 150.93L428.77 151.06L429.26 151.19L429.76 151.25L430.25 151.19L430.74 151.07L431.23 150.94L431.72 150.89L432.22 150.95L432.71 151.09L433.2 151.23L433.69 151.28L434.18 151.27L434.68 151.25L435.17 151.22L435.66 151.21L436.15 151.18L436.64 151.1L437.14 151.02L437.63 150.99L438.12 150.98L438.61 150.95L439.1 150.92L439.6 150.91L440.09 150.92L440.58 150.93L441.07 150.95L441.56 150.95L442.06 150.97L442.55 150.99L443.04 151.02L443.53 151.03L444.02 151.04L444.52 151.05L445.01 151.06L445.5 151.07L445.5 151.09L445.99 148.39L446.48 146.11L446.98 144.18L447.47 142.54L447.96 141.15L448.45 139.96L448.94 138.95L449.44 138.09L449.93 137.38L450.42 136.81L450.91 136.34L451.4 135.92L451.9 135.55L452.39 135.21L452.88 134.92L453.37 134.68L453.86 134.48L454.36 134.31L454.85 134.15L455.34 134.03L455.83 133.94L456.32 133.88L456.82 133.84L457.31 133.79L457.8 133.72L458.29 133.63L458.78 133.55L459.28 133.5L459.77 133.47L460.26 133.46L460.75 133.45L461.24 133.43L461.74 133.38L462.23 133.29L462.72 133.19L463.21 133.15L463.7 133.18L464.2 133.26L464.69 133.34L465.18 133.37L465.67 133.38L466.16 133.41L466.66 133.45L467.15 133.46L467.64 133.45L468.13 133.44L468.62 133.43L469.12 133.42L469.61 133.41L470.1 133.39L470.59 133.36L471.08 133.35L471.58 133.32L472.07 133.26L472.56 133.21L473.05 133.18L473.54 133.21L474.04 133.27L474.53 133.33L475.02 133.36L475.51 133.34L476 133.29L476.5 133.25L476.99 133.23L477.48 133.19L477.97 133.11L478.46 133.02L478.96 132.98L479.45 133.08L479.94 133.32L480.43 133.55L480.92 133.65L481.42 133.61L481.91 133.53L482.4 133.44L482.89 133.4L483.38 133.37L483.88 133.29L484.37 133.21L484.86 133.17L485.35 133.17L485.84 133.15L486.34 133.14L486.83 133.13L487.32 133.13L487.81 133.13L488.3 133.14L488.8 133.14L489.29 133.15L489.78 133.18L490.27 133.21L490.76 133.22L491.26 133.19L491.75 133.13L492.24 133.07L492.73 133.04L493.22 133.04L493.72 133.06L494.21 133.07L494.7 133.08L494.7 133.12L494.8 133.03L494.9 132.95L495 132.88L495.09 132.81L495.19 132.73L495.29 132.65L495.39 132.56L495.49 132.46L495.59 132.33L495.68 132.19L495.82 131.83L495.95 131.22L496.08 130.4L496.21 129.44L496.34 128.39L496.47 127.33L496.6 126.29L496.73 125.35L496.86 124.56L497 123.98L497.29 123L497.59 122.11L497.88 121.3L498.18 120.57L498.47 119.91L498.77 119.31L499.06 118.78L499.36 118.3L499.65 117.86L499.95 117.47L500.36 116.98L500.77 116.53L501.18 116.12L501.59 115.74L502 115.39L502.41 115.07L502.82 114.77L503.23 114.5L503.64 114.24L504.05 113.99L504.44 113.75L504.84 113.52L505.23 113.28L505.62 113.05L506.02 112.84L506.41 112.65L506.8 112.48L507.2 112.35L507.59 112.26L507.98 112.21L508.69 112.17L509.39 112.14L510.1 112.11L510.8 112.1L511.51 112.08L512.22 112.07L512.92 112.05L513.63 112.04L514.33 112.01L515.04 111.98L515.53 111.93L516.02 111.86L516.51 111.77L517 111.66L517.5 111.55L517.99 111.45L518.48 111.35L518.97 111.27L519.46 111.22L519.96 111.2L520.3 111.21L520.64 111.22L520.99 111.23L521.33 111.26L521.68 111.28L522.02 111.3L522.37 111.32L522.71 111.34L523.06 111.35L523.4 111.36L523.81 111.35L524.22 111.34L524.63 111.33L525.04 111.32L525.45 111.3L525.86 111.28L526.27 111.26L526.68 111.24L527.09 111.22L527.5 111.2" fill="none" stroke="#2e9a2e" stroke-width="1.45" stroke-linejoin="round" stroke-linecap="round"/>
<path d="M199.5 174.4L199.99 149.34L200.48 128.34L200.98 110.73L201.47 95.97L201.96 83.6L202.45 73.23L202.94 64.54L203.44 57.25L203.93 51.14L204.42 46.02L204.91 41.73L205.4 38.14L205.9 35.12L206.39 32.59L206.88 30.48L207.37 28.7L207.86 27.21L208.36 25.96L208.85 24.92L209.34 24.04L209.83 23.31L210.32 22.69L210.82 22.18L211.31 21.74L211.8 21.38L212.29 21.08L212.78 20.82L213.28 20.61L213.77 20.43L214.26 20.28L214.75 20.15L215.24 20.05L215.74 19.96L216.23 19.88L216.72 19.82L217.21 19.77L217.7 19.73L218.2 19.69L218.69 19.66L219.18 19.63L219.67 19.61L220.16 19.59L220.66 19.58L221.15 19.57L221.64 19.56L222.13 19.55L222.62 19.54L223.12 19.53L223.61 19.53L224.1 19.52L224.59 19.52L225.08 19.52L225.58 19.51L226.07 19.51L226.56 19.51L227.05 19.51L227.54 19.51L228.04 19.51L228.53 19.5L229.02 19.5L229.51 19.5L230 19.5L230.5 19.5L230.99 19.5L231.48 19.5L231.97 19.5L232.46 19.5L232.96 19.5L233.45 19.5L233.94 19.5L234.43 19.5L234.92 19.5L235.42 19.5L235.91 19.5L236.4 19.5L236.89 19.5L237.38 19.5L237.88 19.5L238.37 19.5L238.86 19.5L239.35 19.5L239.84 19.5L240.34 19.5L240.83 19.5L241.32 19.5L241.81 19.5L242.3 19.5L242.8 19.5L243.29 19.5L243.78 19.5L244.27 19.5L244.76 19.5L245.26 19.5L245.75 19.5L246.24 19.5L246.73 19.5L247.22 19.5L247.72 19.5L248.21 19.5L248.7 19.5L249.19 25.14L249.68 29.86L250.18 33.83L250.67 37.15L251.16 39.93L251.65 42.26L252.14 44.22L252.64 45.86L253.13 47.23L253.62 48.38L254.11 49.35L254.6 50.16L255.1 50.84L255.59 51.41L256.08 51.88L256.57 52.28L257.06 52.62L257.56 52.9L258.05 53.13L258.54 53.33L259.03 53.5L259.52 53.63L260.02 53.75L260.51 53.85L261 53.93L261.49 54L261.98 54.06L262.48 54.1L262.97 54.14L263.46 54.18L263.95 54.21L264.44 54.23L264.94 54.25L265.43 54.27L265.92 54.28L266.41 54.29L266.9 54.3L267.4 54.31L267.89 54.32L268.38 54.32L268.87 54.33L269.36 54.33L269.86 54.33L270.35 54.34L270.84 54.34L271.33 54.34L271.82 54.34L272.32 54.35L272.81 54.35L273.3 54.35L273.79 54.35L274.28 54.35L274.78 54.35L275.27 54.35L275.76 54.35L276.25 54.35L276.74 54.35L277.24 54.35L277.73 54.35L278.22 54.35L278.71 54.35L279.2 54.35L279.7 54.35L280.19 54.35L280.68 54.35L281.17 54.35L281.66 54.35L282.16 54.35L282.65 54.35L283.14 54.35L283.63 54.35L284.12 54.35L284.62 54.35L285.11 54.35L285.6 54.35L286.09 54.35L286.58 54.35L287.08 54.35L287.57 54.35L288.06 54.35L288.55 54.35L289.04 54.35L289.54 54.35L290.03 54.35L290.52 54.35L291.01 54.35L291.5 54.35L292 54.35L292.49 54.35L292.98 54.35L293.47 54.35L293.96 54.35L294.46 54.35L294.95 54.35L295.44 54.35L295.93 54.35L296.42 54.35L296.92 54.35L297.41 54.35L297.9 54.35L298.39 59.87L298.88 64.49L299.38 68.36L299.87 71.61L300.36 74.33L300.85 76.61L301.34 78.52L301.84 80.13L302.33 81.47L302.82 82.6L303.31 83.54L303.8 84.33L304.3 84.99L304.79 85.55L305.28 86.02L305.77 86.41L306.26 86.73L306.76 87.01L307.25 87.24L307.74 87.43L308.23 87.59L308.72 87.73L309.22 87.84L309.71 87.94L310.2 88.02L310.69 88.08L311.18 88.14L311.68 88.19L312.17 88.23L312.66 88.26L313.15 88.29L313.64 88.31L314.14 88.33L314.63 88.35L315.12 88.36L315.61 88.37L316.1 88.38L316.6 88.39L317.09 88.4L317.58 88.4L318.07 88.41L318.56 88.41L319.06 88.41L319.55 88.42L320.04 88.42L320.53 88.42L321.02 88.42L321.52 88.42L322.01 88.42L322.5 88.43L322.99 88.43L323.48 88.43L323.98 88.43L324.47 88.43L324.96 88.43L325.45 88.43L325.94 88.43L326.44 88.43L326.93 88.43L327.42 88.43L327.91 88.43L328.4 88.43L328.9 88.43L329.39 88.43L329.88 88.43L330.37 88.43L330.86 88.43L331.36 88.43L331.85 88.43L332.34 88.43L332.83 88.43L333.32 88.43L333.82 88.43L334.31 88.43L334.8 88.43L335.29 88.43L335.78 88.43L336.28 88.43L336.77 88.43L337.26 88.43L337.75 88.43L338.24 88.43L338.74 88.43L339.23 88.43L339.72 88.43L340.21 88.43L340.7 88.43L341.2 88.43L341.69 88.43L342.18 88.43L342.67 88.43L343.16 88.43L343.66 88.43L344.15 88.43L344.64 88.43L345.13 88.43L345.62 88.43L346.12 88.43L346.61 88.43L347.1 88.43L347.6 92.86L348.09 96.56L348.59 99.66L349.09 102.25L349.58 104.42L350.08 106.24L350.58 107.75L351.08 109.03L351.57 110.09L352.07 110.98L352.57 111.72L353.06 112.35L353.56 112.87L354.06 113.3L354.55 113.67L355.05 113.97L355.55 114.23L356.05 114.44L356.54 114.62L357.04 114.77L357.54 114.9L358.03 115L358.53 115.09L359.03 115.16L359.52 115.22L360.02 115.27L360.52 115.32L361.02 115.35L361.51 115.38L362.01 115.41L362.51 115.43L363 115.45L363.5 115.46L364 115.47L364.49 115.49L364.99 115.49L365.49 115.5L365.98 115.51L366.48 115.51L366.98 115.52L367.48 115.52L367.97 115.52L368.47 115.53L368.97 115.53L369.46 115.53L369.96 115.53L370.46 115.53L370.95 115.53L371.45 115.53L371.95 115.53L372.45 115.53L372.94 115.54L373.44 115.54L373.94 115.54L374.43 115.54L374.93 115.54L375.43 115.54L375.92 115.54L376.42 115.54L376.92 115.54L377.42 115.54L377.91 115.54L378.41 115.54L378.91 115.54L379.4 115.54L379.9 115.54L380.4 115.54L380.89 115.54L381.39 115.54L381.89 115.54L382.38 115.54L382.88 115.54L383.38 115.54L383.88 115.54L384.37 115.54L384.87 115.54L385.37 115.54L385.86 115.54L386.36 115.54L386.86 115.54L387.35 115.54L387.85 115.54L388.35 115.54L388.85 115.54L389.34 115.54L389.84 115.54L390.34 115.54L390.83 115.54L391.33 115.54L391.83 115.54L392.32 115.54L392.82 115.54L393.32 115.54L393.82 115.54L394.31 115.54L394.81 115.54L395.31 115.54L395.8 115.54L396.3 115.54L396.79 111.15L397.28 107.48L397.78 104.4L398.27 101.81L398.76 99.65L399.25 97.83L399.74 96.31L400.24 95.04L400.73 93.97L401.22 93.07L401.71 92.32L402.2 91.69L402.7 91.16L403.19 90.72L403.68 90.35L404.17 90.04L404.66 89.78L405.16 89.56L405.65 89.38L406.14 89.23L406.63 89.1L407.12 88.99L407.62 88.9L408.11 88.82L408.6 88.76L409.09 88.71L409.58 88.66L410.08 88.62L410.57 88.59L411.06 88.57L411.55 88.54L412.04 88.53L412.54 88.51L413.03 88.5L413.52 88.49L414.01 88.48L414.5 88.47L415 88.46L415.49 88.46L415.98 88.45L416.47 88.45L416.96 88.45L417.46 88.44L417.95 88.44L418.44 88.44L418.93 88.44L419.42 88.44L419.92 88.44L420.41 88.44L420.9 88.43L421.39 88.43L421.88 88.43L422.38 88.43L422.87 88.43L423.36 88.43L423.85 88.43L424.34 88.43L424.84 88.43L425.33 88.43L425.82 88.43L426.31 88.43L426.8 88.43L427.3 88.43L427.79 88.43L428.28 88.43L428.77 88.43L429.26 88.43L429.76 88.43L430.25 88.43L430.74 88.43L431.23 88.43L431.72 88.43L432.22 88.43L432.71 88.43L433.2 88.43L433.69 88.43L434.18 88.43L434.68 88.43L435.17 88.43L435.66 88.43L436.15 88.43L436.64 88.43L437.14 88.43L437.63 88.43L438.12 88.43L438.61 88.43L439.1 88.43L439.6 88.43L440.09 88.43L440.58 88.43L441.07 88.43L441.56 88.43L442.06 88.43L442.55 88.43L443.04 88.43L443.53 88.43L444.02 88.43L444.52 88.43L445.01 88.43L445.5 88.43L445.99 82.92L446.48 78.3L446.98 74.42L447.47 71.18L447.96 68.45L448.45 66.17L448.94 64.26L449.44 62.66L449.93 61.31L450.42 60.19L450.91 59.24L451.4 58.45L451.9 57.79L452.39 57.23L452.88 56.77L453.37 56.38L453.86 56.05L454.36 55.77L454.85 55.54L455.34 55.35L455.83 55.19L456.32 55.05L456.82 54.94L457.31 54.85L457.8 54.77L458.29 54.7L458.78 54.64L459.28 54.6L459.77 54.56L460.26 54.52L460.75 54.5L461.24 54.47L461.74 54.45L462.23 54.44L462.72 54.42L463.21 54.41L463.7 54.4L464.2 54.39L464.69 54.39L465.18 54.38L465.67 54.38L466.16 54.37L466.66 54.37L467.15 54.37L467.64 54.36L468.13 54.36L468.62 54.36L469.12 54.36L469.61 54.36L470.1 54.36L470.59 54.36L471.08 54.36L471.58 54.36L472.07 54.35L472.56 54.35L473.05 54.35L473.54 54.35L474.04 54.35L474.53 54.35L475.02 54.35L475.51 54.35L476 54.35L476.5 54.35L476.99 54.35L477.48 54.35L477.97 54.35L478.46 54.35L478.96 54.35L479.45 54.35L479.94 54.35L480.43 54.35L480.92 54.35L481.42 54.35L481.91 54.35L482.4 54.35L482.89 54.35L483.38 54.35L483.88 54.35L484.37 54.35L484.86 54.35L485.35 54.35L485.84 54.35L486.34 54.35L486.83 54.35L487.32 54.35L487.81 54.35L488.3 54.35L488.8 54.35L489.29 54.35L489.78 54.35L490.27 54.35L490.76 54.35L491.26 54.35L491.75 54.35L492.24 54.35L492.73 54.35L493.22 54.35L493.72 54.35L494.21 54.35L494.7 54.35L495.2 48.66L495.69 43.9L496.19 39.92L496.69 36.58L497.18 33.79L497.68 31.46L498.18 29.51L498.68 27.87L499.17 26.51L499.67 25.36L500.17 24.41L500.66 23.6L501.16 22.93L501.66 22.37L502.15 21.9L502.65 21.51L503.15 21.18L503.65 20.91L504.14 20.68L504.64 20.49L505.14 20.33L505.63 20.19L506.13 20.08L506.63 19.98L507.12 19.9L507.62 19.84L508.12 19.78L508.62 19.74L509.11 19.7L509.61 19.67L510.11 19.64L510.6 19.62L511.1 19.6L511.6 19.58L512.09 19.57L512.59 19.56L513.09 19.55L513.58 19.54L514.08 19.53L514.58 19.53L515.08 19.52L515.57 19.52L516.07 19.52L516.57 19.51L517.06 19.51L517.56 19.51L518.06 19.51L518.55 19.51L519.05 19.51L519.55 19.5L520.05 19.5L520.54 19.5L521.04 19.5L521.54 19.5L522.03 19.5L522.53 19.5L523.03 19.5L523.52 19.5L524.02 19.5L524.52 19.5L525.02 19.5L525.51 19.5L526.01 19.5L526.51 19.5L527 19.5L527.5 19.5" fill="none" stroke="#0000ff" stroke-width="2.45" stroke-linejoin="round" stroke-linecap="round"/>
<line x1="199.50" y1="0.60" x2="527.50" y2="0.60" stroke="#858585" stroke-width="1.3" stroke-linecap="square"/>
<line x1="199.50" y1="0.60" x2="199.50" y2="193.20" stroke="#606060" stroke-width="1.25" stroke-linecap="square"/>
<line x1="527.50" y1="0.60" x2="527.50" y2="193.20" stroke="#707070" stroke-width="1.25" stroke-linecap="square"/>
<line x1="199.50" y1="193.20" x2="527.50" y2="193.20" stroke="#555" stroke-width="1.25" stroke-linecap="square"/>
<rect x="309.50" y="0.60" width="136.00" height="57.70" fill="#fff" stroke="#3a3a3a" stroke-width="1"/>
<line x1="312.50" y1="8.80" x2="348.50" y2="8.80" stroke="#0000ff" stroke-width="2.3"/>
<text x="352.00" y="13.29" font-size="10.8">Proposed Method</text>
<line x1="312.50" y1="22.80" x2="348.50" y2="22.80" stroke="#2e9a2e" stroke-width="1.6"/>
<text x="352.00" y="27.29" font-size="10.8">CUSA</text>
<line x1="312.50" y1="36.50" x2="348.50" y2="36.50" stroke="#ff2a2a" stroke-width="1.5"/>
<text x="352.00" y="40.99" font-size="10.8">GWO</text>
<line x1="312.50" y1="50.50" x2="348.50" y2="50.50" stroke="#ff00ff" stroke-width="1.5"/>
<text x="352.00" y="54.99" font-size="10.8">PSO</text>
<text x="193.90" y="178.72" font-size="12" text-anchor="end">0</text>
<text x="193.90" y="140.00" font-size="12" text-anchor="end">500</text>
<text x="193.90" y="101.27" font-size="12" text-anchor="end">1000</text>
<text x="193.90" y="62.54" font-size="12" text-anchor="end">1500</text>
<text x="193.90" y="23.82" font-size="12" text-anchor="end">2000</text>
<text x="199.50" y="210.30" font-size="12" text-anchor="middle">0</text>
<text x="281.50" y="210.30" font-size="12" text-anchor="middle">0.5</text>
<text x="363.50" y="210.30" font-size="12" text-anchor="middle">1</text>
<text x="445.50" y="210.30" font-size="12" text-anchor="middle">1.5</text>
<text x="527.50" y="210.30" font-size="12" text-anchor="middle">2</text>
<text x="364.50" y="226.20" font-size="12.8" text-anchor="middle">Time (sec)</text>
<text transform="translate(158.20 96.10) rotate(-90)" font-size="12.3" text-anchor="middle" class="yl">PV Power (watts)</text>
<text x="344.00" y="242.30" font-size="13.5" text-anchor="middle" class="cap">(i)</text>
<line x1="52.58" y1="448.40" x2="52.58" y2="266.00" class="mn" stroke-dasharray="0.9 1.65"/>
<line x1="66.95" y1="448.40" x2="66.95" y2="266.00" class="mn" stroke-dasharray="0.9 1.65"/>
<line x1="81.33" y1="448.40" x2="81.33" y2="266.00" class="mn" stroke-dasharray="0.9 1.65"/>
<line x1="95.70" y1="448.40" x2="95.70" y2="266.00" class="mn" stroke-dasharray="0.9 1.65"/>
<line x1="124.45" y1="448.40" x2="124.45" y2="266.00" class="mn" stroke-dasharray="0.9 1.65"/>
<line x1="138.83" y1="448.40" x2="138.83" y2="266.00" class="mn" stroke-dasharray="0.9 1.65"/>
<line x1="153.20" y1="448.40" x2="153.20" y2="266.00" class="mn" stroke-dasharray="0.9 1.65"/>
<line x1="167.57" y1="448.40" x2="167.57" y2="266.00" class="mn" stroke-dasharray="0.9 1.65"/>
<line x1="196.32" y1="448.40" x2="196.32" y2="266.00" class="mn" stroke-dasharray="0.9 1.65"/>
<line x1="210.70" y1="448.40" x2="210.70" y2="266.00" class="mn" stroke-dasharray="0.9 1.65"/>
<line x1="225.07" y1="448.40" x2="225.07" y2="266.00" class="mn" stroke-dasharray="0.9 1.65"/>
<line x1="239.45" y1="448.40" x2="239.45" y2="266.00" class="mn" stroke-dasharray="0.9 1.65"/>
<line x1="268.20" y1="448.40" x2="268.20" y2="266.00" class="mn" stroke-dasharray="0.9 1.65"/>
<line x1="282.58" y1="448.40" x2="282.58" y2="266.00" class="mn" stroke-dasharray="0.9 1.65"/>
<line x1="296.95" y1="448.40" x2="296.95" y2="266.00" class="mn" stroke-dasharray="0.9 1.65"/>
<line x1="311.32" y1="448.40" x2="311.32" y2="266.00" class="mn" stroke-dasharray="0.9 1.65"/>
<line x1="38.20" y1="442.37" x2="325.70" y2="442.37" class="mn" stroke-dasharray="0.9 1.65"/>
<line x1="38.20" y1="436.44" x2="325.70" y2="436.44" class="mn" stroke-dasharray="0.9 1.65"/>
<line x1="38.20" y1="430.50" x2="325.70" y2="430.50" class="mn" stroke-dasharray="0.9 1.65"/>
<line x1="38.20" y1="424.56" x2="325.70" y2="424.56" class="mn" stroke-dasharray="0.9 1.65"/>
<line x1="38.20" y1="418.63" x2="325.70" y2="418.63" class="mn" stroke-dasharray="0.9 1.65"/>
<line x1="38.20" y1="412.69" x2="325.70" y2="412.69" class="mn" stroke-dasharray="0.9 1.65"/>
<line x1="38.20" y1="406.76" x2="325.70" y2="406.76" class="mn" stroke-dasharray="0.9 1.65"/>
<line x1="38.20" y1="400.82" x2="325.70" y2="400.82" class="mn" stroke-dasharray="0.9 1.65"/>
<line x1="38.20" y1="394.88" x2="325.70" y2="394.88" class="mn" stroke-dasharray="0.9 1.65"/>
<line x1="38.20" y1="388.95" x2="325.70" y2="388.95" class="mn" stroke-dasharray="0.9 1.65"/>
<line x1="38.20" y1="383.01" x2="325.70" y2="383.01" class="mn" stroke-dasharray="0.9 1.65"/>
<line x1="38.20" y1="377.08" x2="325.70" y2="377.08" class="mn" stroke-dasharray="0.9 1.65"/>
<line x1="38.20" y1="371.14" x2="325.70" y2="371.14" class="mn" stroke-dasharray="0.9 1.65"/>
<line x1="38.20" y1="365.20" x2="325.70" y2="365.20" class="mn" stroke-dasharray="0.9 1.65"/>
<line x1="38.20" y1="359.27" x2="325.70" y2="359.27" class="mn" stroke-dasharray="0.9 1.65"/>
<line x1="38.20" y1="353.33" x2="325.70" y2="353.33" class="mn" stroke-dasharray="0.9 1.65"/>
<line x1="38.20" y1="347.40" x2="325.70" y2="347.40" class="mn" stroke-dasharray="0.9 1.65"/>
<line x1="38.20" y1="341.46" x2="325.70" y2="341.46" class="mn" stroke-dasharray="0.9 1.65"/>
<line x1="38.20" y1="335.52" x2="325.70" y2="335.52" class="mn" stroke-dasharray="0.9 1.65"/>
<line x1="38.20" y1="329.59" x2="325.70" y2="329.59" class="mn" stroke-dasharray="0.9 1.65"/>
<line x1="38.20" y1="323.65" x2="325.70" y2="323.65" class="mn" stroke-dasharray="0.9 1.65"/>
<line x1="38.20" y1="317.72" x2="325.70" y2="317.72" class="mn" stroke-dasharray="0.9 1.65"/>
<line x1="38.20" y1="311.78" x2="325.70" y2="311.78" class="mn" stroke-dasharray="0.9 1.65"/>
<line x1="38.20" y1="305.84" x2="325.70" y2="305.84" class="mn" stroke-dasharray="0.9 1.65"/>
<line x1="38.20" y1="299.91" x2="325.70" y2="299.91" class="mn" stroke-dasharray="0.9 1.65"/>
<line x1="38.20" y1="293.97" x2="325.70" y2="293.97" class="mn" stroke-dasharray="0.9 1.65"/>
<line x1="38.20" y1="288.04" x2="325.70" y2="288.04" class="mn" stroke-dasharray="0.9 1.65"/>
<line x1="38.20" y1="282.10" x2="325.70" y2="282.10" class="mn" stroke-dasharray="0.9 1.65"/>
<line x1="38.20" y1="276.16" x2="325.70" y2="276.16" class="mn" stroke-dasharray="0.9 1.65"/>
<line x1="38.20" y1="270.23" x2="325.70" y2="270.23" class="mn" stroke-dasharray="0.9 1.65"/>
<line x1="38.20" y1="430.50" x2="325.70" y2="430.50" class="mjh" stroke-dasharray="6.6 3.6" stroke-dashoffset="5.2"/>
<line x1="38.20" y1="400.82" x2="325.70" y2="400.82" class="mjh" stroke-dasharray="6.6 3.6" stroke-dashoffset="5.2"/>
<line x1="38.20" y1="371.14" x2="325.70" y2="371.14" class="mjh" stroke-dasharray="6.6 3.6" stroke-dashoffset="5.2"/>
<line x1="38.20" y1="341.46" x2="325.70" y2="341.46" class="mjh" stroke-dasharray="6.6 3.6" stroke-dashoffset="5.2"/>
<line x1="38.20" y1="311.78" x2="325.70" y2="311.78" class="mjh" stroke-dasharray="6.6 3.6" stroke-dashoffset="5.2"/>
<line x1="38.20" y1="282.10" x2="325.70" y2="282.10" class="mjh" stroke-dasharray="6.6 3.6" stroke-dashoffset="5.2"/>
<line x1="110.08" y1="448.40" x2="110.08" y2="266.00" class="mjv" stroke-dasharray="6.4 3.8" stroke="#4d4d4d" stroke-width="1.15"/>
<line x1="181.95" y1="448.40" x2="181.95" y2="266.00" class="mjv" stroke-dasharray="6.4 3.8" stroke="#4d4d4d" stroke-width="1.15"/>
<line x1="253.82" y1="448.40" x2="253.82" y2="266.00" class="mjv" stroke-dasharray="6.4 3.8" stroke="#4d4d4d" stroke-width="1.15"/>
<path d="M38.2 430.5L38.37 423.65L38.55 416.29L38.72 408.65L38.89 400.94L39.06 393.37L39.23 386.15L39.41 379.52L39.58 373.67L39.75 368.83L39.93 365.2L40.17 361.8L40.41 358.27L40.66 354.74L40.9 351.32L41.15 348.12L41.39 345.26L41.64 342.85L41.88 341L42.12 339.83L42.37 339.44L42.6 339.88L42.83 341.04L43.06 342.8L43.29 345.05L43.52 347.66L43.75 350.53L43.98 353.54L44.21 356.57L44.44 359.51L44.67 362.24L44.88 364.68L45.1 367.1L45.32 369.44L45.53 371.64L45.75 373.62L45.96 375.32L46.18 376.67L46.39 377.6L46.61 378.06L46.82 377.97L47.04 377.18L47.26 375.68L47.47 373.56L47.69 370.93L47.9 367.89L48.12 364.56L48.33 361.04L48.55 357.42L48.77 353.83L48.98 350.36L49.2 346.93L49.41 343.41L49.63 339.84L49.84 336.28L50.06 332.77L50.28 329.36L50.49 326.1L50.71 323.04L50.92 320.23L51.14 317.72L51.37 315.25L51.6 312.9L51.83 310.69L52.06 308.68L52.29 306.89L52.52 305.36L52.75 304.13L52.98 303.25L53.21 302.73L53.44 302.64L53.71 303.14L53.98 304.28L54.26 305.97L54.53 308.11L54.8 310.59L55.08 313.33L55.35 316.22L55.62 319.17L55.9 322.07L56.17 324.84L56.51 328.27L56.86 331.78L57.2 335.27L57.55 338.62L57.89 341.75L58.24 344.54L58.58 346.9L58.93 348.72L59.27 349.91L59.62 350.36L59.95 350.06L60.28 349.13L60.61 347.66L60.94 345.77L61.27 343.53L61.6 341.06L61.93 338.45L62.26 335.8L62.59 333.21L62.92 330.78L63.33 327.92L63.73 325.07L64.13 322.29L64.54 319.66L64.94 317.25L65.34 315.15L65.74 313.41L66.15 312.12L66.55 311.36L66.95 311.19L67.41 311.8L67.87 313.17L68.33 315.12L68.79 317.46L69.25 320.02L69.71 322.61L70.17 325.06L70.63 327.18L71.09 328.79L71.55 329.71L71.95 329.94L72.36 329.76L72.76 329.24L73.16 328.41L73.56 327.33L73.96 326.06L74.37 324.65L74.77 323.15L75.17 321.61L75.58 320.09L76.02 318.39L76.47 316.65L76.91 314.94L77.36 313.34L77.8 311.91L78.25 310.74L78.69 309.89L79.14 309.43L79.59 309.44L80.03 310L80.48 311.41L80.92 313.78L81.37 316.88L81.81 320.46L82.26 324.27L82.7 328.08L83.15 331.65L83.6 334.74L84.04 337.1L84.49 338.49L84.75 338.9L85 339.16L85.26 339.3L85.52 339.33L85.78 339.26L86.04 339.1L86.3 338.87L86.56 338.58L86.82 338.26L87.08 337.9L87.36 337.44L87.65 336.91L87.94 336.33L88.22 335.75L88.51 335.18L88.8 334.66L89.09 334.23L89.38 333.91L89.66 333.74L89.95 333.74L90.38 334.15L90.81 334.99L91.24 336.14L91.68 337.52L92.11 339L92.54 340.49L92.97 341.89L93.4 343.08L93.83 343.96L94.26 344.43L94.65 344.48L95.04 344.25L95.43 343.79L95.82 343.15L96.2 342.36L96.59 341.48L96.98 340.54L97.37 339.61L97.76 338.71L98.14 337.9L98.7 336.84L99.27 335.87L99.83 335L100.39 334.24L100.95 333.61L101.51 333.14L102.07 332.84L102.63 332.73L103.19 332.83L103.75 333.15L104.15 333.61L104.56 334.33L104.96 335.23L105.36 336.26L105.76 337.34L106.16 338.43L106.57 339.44L106.97 340.33L107.37 341.02L107.78 341.46L108 341.61L108.24 341.72L108.46 341.81L108.7 341.86L108.92 341.88L109.16 341.86L109.38 341.81L109.62 341.73L109.84 341.61L110.08 341.46L110.56 340.94L111.05 340.16L111.54 339.2L112.03 338.15L112.52 337.1L113.01 336.12L113.5 335.3L113.98 334.72L114.47 334.47L114.96 334.63L115.29 335.05L115.62 335.7L115.95 336.52L116.29 337.43L116.62 338.36L116.95 339.25L117.28 340.02L117.61 340.59L117.94 340.9L118.27 340.87L118.43 340.7L118.58 340.42L118.74 340.07L118.9 339.67L119.06 339.25L119.22 338.84L119.38 338.47L119.53 338.17L119.69 337.97L119.85 337.9L120.01 337.97L120.17 338.17L120.32 338.47L120.48 338.83L120.64 339.24L120.8 339.66L120.96 340.06L121.12 340.41L121.27 340.69L121.43 340.87L121.59 340.94L121.75 340.95L121.91 340.91L122.06 340.81L122.22 340.67L122.38 340.5L122.54 340.31L122.7 340.1L122.85 339.89L123.01 339.68L123.17 339.79L123.33 339.9L123.49 340L123.64 340.1L123.8 340.2L123.96 340.31L124.12 340.42L124.28 340.55L124.44 340.7L124.59 340.87L124.91 341.35L125.23 342.05L125.54 342.93L125.86 343.94L126.17 345.04L126.49 346.19L126.81 347.34L127.12 348.45L127.44 349.47L127.76 350.36L128.09 351.26L128.42 352.22L128.75 353.22L129.08 354.2L129.41 355.14L129.74 355.99L130.07 356.72L130.4 357.28L130.73 357.65L131.06 357.78L131.54 357.75L132.01 357.66L132.49 357.52L132.96 357.34L133.43 357.13L133.91 356.91L134.38 356.67L134.86 356.44L135.33 356.21L135.81 356L136.21 355.82L136.61 355.61L137.01 355.38L137.42 355.14L137.82 354.91L138.22 354.69L138.62 354.5L139.03 354.36L139.43 354.26L139.83 354.22L140.23 354.29L140.64 354.47L141.04 354.74L141.44 355.06L141.84 355.41L142.25 355.76L142.65 356.08L143.05 356.35L143.45 356.53L143.86 356.6L144.33 356.59L144.81 356.56L145.28 356.52L145.75 356.46L146.23 356.4L146.7 356.33L147.18 356.25L147.65 356.17L148.13 356.08L148.6 356L149.06 355.91L149.52 355.78L149.98 355.63L150.44 355.47L150.9 355.31L151.36 355.16L151.82 355.02L152.28 354.91L152.74 354.84L153.2 354.82L153.63 354.84L154.06 354.89L154.49 354.97L154.93 355.07L155.36 355.19L155.79 355.31L156.22 355.43L156.65 355.54L157.08 355.63L157.51 355.71L157.8 355.75L158.09 355.79L158.38 355.83L158.66 355.87L158.95 355.9L159.24 355.94L159.53 355.96L159.81 355.98L160.1 356L160.39 356L160.68 355.98L160.96 355.91L161.25 355.81L161.54 355.69L161.82 355.56L162.11 355.43L162.4 355.31L162.69 355.21L162.98 355.14L163.26 355.11L163.54 355.12L163.81 355.13L164.08 355.15L164.36 355.17L164.63 355.2L164.9 355.23L165.17 355.27L165.45 355.31L165.72 355.36L165.99 355.41L166.14 355.44L166.28 355.49L166.43 355.54L166.57 355.6L166.71 355.67L166.86 355.73L167 355.8L167.14 355.87L167.29 355.94L167.43 356L167.57 356L168.01 355.98L168.44 360L168.88 363.38L169.31 366.22L169.75 368.56L170.18 370.47L170.62 372.04L171.06 373.37L171.49 374.57L171.93 375.67L172.36 376.61L172.8 377.33L173.23 377.86L173.67 378.26L174.11 378.59L174.54 378.9L174.98 379.21L175.41 379.49L175.85 379.73L176.28 379.9L176.72 380L177.15 380.05L177.59 380.09L178.03 380.15L178.46 380.21L178.9 380.25L179.33 380.29L179.77 380.32L180.2 380.35L180.64 380.37L181.08 380.39L181.51 380.4L181.95 380.34L182.38 380.22L182.82 380.13L183.25 380.12L183.69 380.2L184.13 380.32L184.56 380.41L185 380.43L185.43 380.42L185.87 380.41L186.3 380.39L186.74 380.4L187.17 380.5L187.61 380.64L188.05 380.74L188.48 380.75L188.92 380.66L189.35 380.54L189.79 380.46L190.22 380.44L190.66 380.44L191.1 380.44L191.53 380.44L191.97 380.43L192.4 380.34L192.84 380.23L193.27 380.16L193.71 380.17L194.15 380.29L194.58 380.45L195.02 380.55L195.45 380.55L195.89 380.51L196.32 380.46L196.76 380.43L197.19 380.46L197.63 380.6L198.07 380.76L198.5 380.85L198.94 380.83L199.37 380.72L199.81 380.58L200.24 380.51L200.68 380.5L201.12 380.49L201.55 380.47L201.99 380.46L202.42 380.46L202.86 380.47L203.29 380.48L203.73 380.48L204.17 380.51L204.6 380.63L205.04 380.75L205.47 380.81L205.91 380.75L206.34 380.58L206.78 380.39L207.21 380.31L207.65 380.3L208.09 380.28L208.52 380.25L208.96 380.24L209.39 380.28L209.83 380.39L210.26 380.5L210.7 380.54L210.7 380.52L211.56 380.51L211.99 376.96L212.43 373.9L212.86 371.26L213.29 368.96L213.72 366.96L214.15 365.24L214.58 363.83L215.01 362.73L215.44 361.81L215.88 360.95L216.31 360.17L216.74 359.53L217.17 358.98L217.6 358.49L218.03 358.02L218.46 357.58L218.89 357.19L219.32 356.88L219.76 356.57L220.19 356.18L220.62 355.82L221.05 355.6L221.48 355.54L221.91 355.59L222.34 355.65L222.78 355.64L223.21 355.61L223.64 355.66L224.07 355.72L224.5 355.72L224.93 355.61L225.36 355.42L225.79 355.23L226.23 355.14L226.66 355.16L227.09 355.24L227.52 355.33L227.95 355.35L228.38 355.31L228.81 355.24L229.24 355.17L229.68 355.13L230.11 355.14L230.54 355.15L230.97 355.17L231.4 355.17L231.83 355.13L232.26 355.03L232.69 354.93L233.12 354.88L233.56 354.96L233.99 355.14L234.42 355.33L234.85 355.4L235.28 355.38L235.71 355.31L236.14 355.24L236.57 355.22L237.01 355.19L237.44 355.13L237.87 355.06L238.3 355.04L238.73 355.03L239.16 355.02L239.59 355.01L240.02 355L240.46 355.05L240.89 355.16L241.32 355.26L241.75 355.31L242.18 355.27L242.61 355.19L243.04 355.1L243.47 355.07L243.91 355.14L244.34 355.3L244.77 355.47L245.2 355.54L245.63 355.49L246.06 355.37L246.49 355.26L246.93 355.21L247.36 355.23L247.79 355.28L248.22 355.33L248.65 355.35L249.08 355.34L249.51 355.31L249.94 355.28L250.38 355.27L250.81 355.21L251.24 355.07L251.67 354.93L252.1 354.87L252.53 354.87L252.96 354.86L253.39 354.85L253.82 354.85L253.82 355.11L253.97 355.1L254.4 351.21L254.84 347.93L255.27 345.17L255.71 342.83L256.14 340.85L256.57 339.17L257.01 337.75L257.44 336.55L257.88 335.51L258.31 334.62L258.74 333.86L259.18 333.23L259.61 332.58L260.05 331.94L260.48 331.42L260.92 331.11L261.35 331.07L261.78 331.19L262.22 331.25L262.65 331.12L263.09 330.95L263.52 330.79L263.95 330.66L264.39 330.57L264.82 330.43L265.26 330.27L265.69 330.15L266.13 330.11L266.56 330.14L266.99 330.2L267.43 330.24L267.86 330.2L268.3 330.05L268.73 329.86L269.16 329.72L269.6 329.71L270.03 329.8L270.47 329.92L270.9 330L271.33 330L271.77 330.01L272.2 330.03L272.64 330.05L273.07 330.04L273.51 330.02L273.94 329.99L274.37 329.97L274.81 329.96L275.24 329.95L275.68 329.93L276.11 329.92L276.54 329.92L276.98 329.93L277.41 329.94L277.85 329.94L278.28 329.93L278.72 329.89L279.15 329.85L279.58 329.82L280.02 329.82L280.45 329.86L280.89 329.91L281.32 329.94L281.75 329.95L282.19 330L282.62 330.07L283.06 330.1L283.49 330.06L283.93 329.94L284.36 329.79L284.79 329.71L285.23 329.71L285.66 329.72L286.1 329.74L286.53 329.74L286.96 329.69L287.4 329.55L287.83 329.39L288.27 329.3L288.7 329.38L289.14 329.59L289.57 329.83L290 329.95L290.44 329.9L290.87 329.78L291.31 329.66L291.74 329.59L292.17 329.62L292.61 329.69L293.04 329.76L293.48 329.79L293.91 329.75L294.35 329.66L294.78 329.57L295.21 329.53L295.65 329.57L296.08 329.67L296.52 329.78L296.95 329.82L296.95 329.83L297.24 329.83L297.68 326.02L298.11 322.81L298.55 320.09L298.99 317.8L299.43 315.82L299.86 314.12L300.3 312.68L300.74 311.49L301.18 310.46L301.62 309.59L302.05 308.87L302.49 308.33L302.93 307.99L303.37 307.74L303.81 307.47L304.24 307.14L304.68 306.82L305.12 306.52L305.56 306.31L306 306.16L306.43 306.03L306.87 305.93L307.31 305.84L307.75 305.8L308.18 305.81L308.62 305.83L309.06 305.81L309.5 305.63L309.94 305.32L310.37 305.03L310.81 304.92L311.25 304.95L311.69 305.02L312.13 305.09L312.56 305.11L313 305.18L313.44 305.32L313.88 305.44L314.31 305.46L314.75 305.44L315.19 305.42L315.63 305.39L316.07 305.38L316.5 305.35L316.94 305.31L317.38 305.27L317.82 305.26L318.26 305.26L318.69 305.25L319.13 305.24L319.57 305.24L320.01 305.24L320.45 305.25L320.88 305.26L321.32 305.26L321.76 305.26L322.2 305.26L322.63 305.26L323.07 305.27L323.51 305.35L323.95 305.46L324.39 305.52L324.82 305.54L325.26 305.6L325.7 305.67" fill="none" stroke="#ff00ff" stroke-width="1.4" stroke-linejoin="round" stroke-linecap="round"/>
<path d="M38.2 430.5L38.26 426.18L38.32 421.61L38.37 416.9L38.43 412.15L38.49 407.48L38.55 402.98L38.6 398.77L38.66 394.96L38.72 391.65L38.78 388.95L38.89 384.36L39.01 380.04L39.12 376.01L39.23 372.31L39.35 368.96L39.47 365.98L39.58 363.4L39.7 361.25L39.81 359.54L39.93 358.32L40.26 355.67L40.59 353.35L40.92 351.32L41.25 349.57L41.58 348.09L41.91 346.84L42.24 345.81L42.57 344.98L42.9 344.33L43.23 343.83L43.55 343.46L43.86 343.15L44.18 342.88L44.5 342.64L44.81 342.44L45.13 342.25L45.45 342.06L45.76 341.88L46.08 341.68L46.39 341.46L46.8 341.13L47.2 340.77L47.6 340.38L48 339.98L48.41 339.6L48.81 339.25L49.21 338.94L49.61 338.7L50.02 338.55L50.42 338.49L50.98 338.62L51.54 338.97L52.1 339.48L52.66 340.1L53.22 340.78L53.78 341.45L54.34 342.08L54.9 342.59L55.46 342.93L56.03 343.06L56.43 342.99L56.83 342.8L57.23 342.51L57.64 342.14L58.04 341.73L58.44 341.3L58.84 340.87L59.25 340.47L59.65 340.12L60.05 339.86L60.44 339.66L60.83 339.47L61.21 339.3L61.6 339.14L61.99 338.99L62.38 338.84L62.77 338.7L63.16 338.55L63.54 338.41L63.93 338.25L64.23 338.12L64.53 337.98L64.84 337.82L65.14 337.66L65.44 337.51L65.74 337.37L66.04 337.25L66.35 337.15L66.65 337.09L66.95 337.07L67.17 337.1L67.38 337.19L67.6 337.32L67.81 337.49L68.03 337.66L68.24 337.84L68.46 338L68.67 338.13L68.89 338.22L69.11 338.25L69.55 338.19L70 338.03L70.44 337.78L70.89 337.46L71.33 337.11L71.78 336.74L72.23 336.38L72.67 336.04L73.12 335.74L73.56 335.52L74.3 335.25L75.03 335L75.76 334.78L76.5 334.57L77.23 334.38L77.96 334.2L78.69 334.02L79.43 333.83L80.16 333.65L80.89 333.45L81.33 333.45L81.76 336.15L82.19 338.46L82.62 340.43L83.05 342.11L83.48 343.54L83.91 344.71L84.34 345.67L84.78 346.51L85.21 347.33L85.64 348.16L86.07 348.96L86.5 349.57L86.93 350.11L87.36 350.7L87.79 351.25L88.22 351.62L88.66 351.75L89.09 351.67L89.52 351.57L89.95 351.6L90.38 351.77L90.81 351.96L91.24 352.13L91.68 352.25L92.11 352.31L92.54 352.35L92.97 352.38L93.4 352.42L93.83 352.51L94.26 352.68L94.69 352.85L95.12 352.93L95.56 352.95L95.99 352.98L96.42 353L96.85 353.01L97.28 353.07L97.71 353.18L98.14 353.3L98.58 353.35L99.01 353.31L99.44 353.19L99.87 353.08L100.3 353.04L100.73 353.08L101.16 353.17L101.59 353.26L102.03 353.3L102.46 353.28L102.89 353.24L103.32 353.19L103.75 353.17L104.18 353.14L104.61 353.08L105.04 353.01L105.47 352.99L105.91 352.94L106.34 352.82L106.77 352.71L107.2 352.66L107.63 352.74L108.06 352.93L108.49 353.12L108.92 353.2L109.36 353.19L109.79 353.16L110.22 353.12L110.65 353.11L111.08 353.17L111.51 353.3L111.94 353.44L112.38 353.49L112.81 353.48L113.24 353.43L113.67 353.39L114.1 353.37L114.53 353.34L114.96 353.25L115.39 353.17L115.83 353.14L116.26 353.13L116.69 353.1L117.12 353.08L117.55 353.07L117.98 353.05L118.41 353L118.84 352.95L119.28 352.93L119.71 353.03L120.14 353.26L120.57 353.39L121 353.19L121.43 352.49L121.86 351.52L122.29 350.85L122.72 350.9L123.16 351.51L123.59 352.21L124.02 352.7L124.45 352.92L124.45 352.98L124.88 355.6L125.31 357.84L125.74 359.77L126.17 361.43L126.61 362.86L127.04 364.13L127.47 365.23L127.9 366.17L128.33 366.96L128.76 367.61L129.19 368.16L129.62 368.64L130.06 369.03L130.49 369.32L130.92 369.56L131.35 369.8L131.78 370.02L132.21 370.2L132.64 370.35L133.07 370.49L133.51 370.57L133.94 370.58L134.37 370.56L134.8 370.6L135.23 370.76L135.66 371.03L136.09 371.29L136.52 371.42L136.96 371.54L137.39 371.77L137.82 371.99L138.25 372.1L138.68 371.92L139.11 371.46L139.54 370.99L139.97 370.8L140.41 370.9L140.84 371.11L141.27 371.32L141.7 371.41L142.13 371.38L142.56 371.28L142.99 371.18L143.43 371.15L143.86 371.25L144.29 371.5L144.72 371.75L145.15 371.86L145.58 371.83L146.01 371.74L146.44 371.65L146.88 371.62L147.31 371.55L147.74 371.36L148.17 371.17L148.6 371.09L149.03 371.2L149.46 371.47L149.89 371.73L150.32 371.84L150.76 371.93L151.19 372.15L151.62 372.36L152.05 372.45L152.48 372.35L152.91 372.09L153.34 371.83L153.78 371.73L154.21 371.71L154.64 371.64L155.07 371.57L155.5 371.54L155.93 371.59L156.36 371.7L156.79 371.82L157.23 371.86L157.66 371.86L158.09 371.84L158.52 371.82L158.95 371.81L159.38 371.77L159.81 371.66L160.24 371.54L160.68 371.5L161.11 371.56L161.54 371.7L161.97 371.84L162.4 371.9L162.83 371.93L163.26 372.01L163.69 372.09L164.12 372.12L164.56 371.98L164.99 371.63L165.42 371.27L165.85 371.13L166.28 371.3L166.71 371.71L167.14 372.11L167.57 372.29L167.57 371.91L168.01 374.72L168.45 377.15L168.88 379.24L169.32 381.05L169.75 382.59L170.19 383.88L170.62 384.97L171.06 385.93L171.5 386.72L171.93 387.3L172.37 387.78L172.8 388.26L173.24 388.72L173.67 389.12L174.11 389.46L174.54 389.75L174.98 390.07L175.42 390.43L175.85 390.73L176.29 390.93L176.72 391L177.16 391.01L177.59 391.01L178.03 391.07L178.47 391.17L178.9 391.26L179.34 391.35L179.77 391.4L180.21 391.44L180.64 391.48L181.08 391.52L181.51 391.54L181.95 391.59L182.39 391.64L182.82 391.68L183.26 391.7L183.69 391.66L184.13 391.58L184.56 391.52L185 391.51L185.43 391.45L185.87 391.36L186.31 391.29L186.74 391.28L187.18 391.25L187.61 391.19L188.05 391.15L188.48 391.16L188.92 391.23L189.36 391.32L189.79 391.39L190.23 391.41L190.66 391.49L191.1 391.6L191.53 391.67L191.97 391.67L192.4 391.58L192.84 391.47L193.28 391.4L193.71 391.38L194.15 391.35L194.58 391.3L195.02 391.27L195.45 391.3L195.89 391.45L196.32 391.64L196.76 391.75L197.2 391.75L197.63 391.74L198.07 391.72L198.5 391.71L198.94 391.74L199.37 391.87L199.81 392.03L200.25 392.12L200.68 392.03L201.12 391.7L201.55 391.31L201.99 391.1L202.42 391.14L202.86 391.28L203.29 391.44L203.73 391.52L204.17 391.53L204.6 391.57L205.04 391.61L205.47 391.63L205.91 391.62L206.34 391.59L206.78 391.55L207.22 391.54L207.65 391.59L208.09 391.73L208.52 391.87L208.96 391.93L209.39 391.91L209.83 391.86L210.26 391.81L210.7 391.79L210.7 391.62L211.13 388.92L211.56 386.58L211.99 384.56L212.43 382.82L212.86 381.34L213.29 380.12L213.72 379.09L214.15 378.19L214.58 377.44L215.01 376.89L215.44 376.41L215.88 375.94L216.31 375.42L216.74 374.84L217.17 374.32L217.6 373.96L218.03 373.79L218.46 373.78L218.89 373.78L219.32 373.71L219.76 373.51L220.19 373.24L220.62 372.98L221.05 372.83L221.48 372.66L221.91 372.36L222.34 372.07L222.78 371.93L223.21 372.05L223.64 372.42L224.07 372.8L224.5 372.94L224.93 372.78L225.36 372.43L225.79 372.07L226.23 371.92L226.66 371.97L227.09 372.09L227.52 372.22L227.95 372.27L228.38 372.22L228.81 372.08L229.24 371.95L229.68 371.9L230.11 371.91L230.54 371.95L230.97 371.99L231.4 372.01L231.83 372.04L232.26 372.12L232.69 372.2L233.12 372.23L233.56 372.22L233.99 372.2L234.42 372.19L234.85 372.18L235.28 372.17L235.71 372.15L236.14 372.13L236.57 372.13L237.01 372.13L237.44 372.13L237.87 372.13L238.3 372.13L238.73 372.19L239.16 372.33L239.59 372.48L240.02 372.53L240.46 372.42L240.89 372.15L241.32 371.88L241.75 371.76L242.18 371.81L242.61 371.91L243.04 372.02L243.47 372.06L243.91 372.09L244.34 372.15L244.77 372.22L245.2 372.24L245.63 372.23L246.06 372.2L246.49 372.17L246.93 372.15L247.36 372.16L247.79 372.17L248.22 372.18L248.65 372.18L249.08 372.19L249.51 372.23L249.94 372.27L250.38 372.28L250.81 372.19L251.24 371.97L251.67 371.76L252.1 371.67L252.53 371.73L252.96 371.9L253.39 372.07L253.82 372.14L253.82 372.15L254.26 369.44L254.69 367.11L255.12 365.12L255.55 363.4L255.98 361.9L256.41 360.56L256.84 359.38L257.28 358.39L257.71 357.58L258.14 356.96L258.57 356.45L259 355.97L259.43 355.45L259.86 354.91L260.29 354.41L260.73 354.06L261.16 353.82L261.59 353.63L262.02 353.47L262.45 353.32L262.88 353.2L263.31 353.14L263.74 353.09L264.18 353.02L264.61 352.92L265.04 352.8L265.47 352.69L265.9 352.61L266.33 352.61L266.76 352.67L267.19 352.73L267.62 352.74L268.06 352.69L268.49 352.62L268.92 352.56L269.35 352.52L269.78 352.52L270.21 352.54L270.64 352.57L271.08 352.57L271.51 352.55L271.94 352.52L272.37 352.49L272.8 352.48L273.23 352.46L273.66 352.45L274.09 352.43L274.53 352.42L274.96 352.4L275.39 352.36L275.82 352.32L276.25 352.3L276.68 352.23L277.11 352.07L277.54 351.91L277.98 351.84L278.41 351.97L278.84 352.28L279.27 352.59L279.7 352.72L280.13 352.67L280.56 352.55L280.99 352.43L281.43 352.38L281.86 352.39L282.29 352.42L282.72 352.45L283.15 352.47L283.58 352.53L284.01 352.71L284.44 352.88L284.88 352.95L285.31 352.8L285.74 352.45L286.17 352.09L286.6 351.94L287.03 352.01L287.46 352.19L287.89 352.37L288.32 352.44L288.76 352.46L289.19 352.52L289.62 352.58L290.05 352.6L290.48 352.58L290.91 352.54L291.34 352.5L291.77 352.48L292.21 352.4L292.64 352.22L293.07 352.05L293.5 351.97L293.93 352.12L294.36 352.5L294.79 352.88L295.22 353.03L295.66 352.88L296.09 352.52L296.52 352.17L296.95 352.02L296.95 352.26L296.98 352.19L297.01 352.13L297.04 352.06L297.06 351.99L297.09 351.93L297.12 351.86L297.15 351.79L297.18 351.71L297.21 351.64L297.24 351.55L297.37 351.12L297.5 350.6L297.63 350.03L297.75 349.41L297.88 348.76L298.01 348.1L298.14 347.44L298.27 346.79L298.4 346.18L298.53 345.62L298.7 344.89L298.88 344.14L299.05 343.38L299.22 342.64L299.39 341.92L299.57 341.24L299.74 340.61L299.91 340.05L300.08 339.58L300.26 339.2L300.57 338.64L300.89 338.13L301.2 337.66L301.52 337.23L301.84 336.85L302.15 336.52L302.47 336.22L302.79 335.97L303.1 335.75L303.42 335.58L303.89 335.37L304.37 335.2L304.84 335.05L305.32 334.92L305.79 334.8L306.26 334.69L306.74 334.58L307.21 334.47L307.69 334.35L308.16 334.22L308.65 334.05L309.14 333.86L309.63 333.65L310.12 333.44L310.61 333.23L311.09 333.04L311.58 332.87L312.07 332.73L312.56 332.65L313.05 332.62L313.28 332.64L313.51 332.69L313.74 332.77L313.97 332.87L314.2 332.98L314.43 333.09L314.66 333.19L314.89 333.28L315.12 333.35L315.35 333.39L315.91 333.43L316.47 333.47L317.03 333.51L317.59 333.54L318.15 333.56L318.71 333.59L319.27 333.6L319.83 333.61L320.4 333.62L320.96 333.62L321.43 333.6L321.9 333.53L322.38 333.43L322.85 333.31L323.33 333.16L323.8 333L324.28 332.83L324.75 332.67L325.23 332.51L325.7 332.38" fill="none" stroke="#ff2a2a" stroke-width="1.4" stroke-linejoin="round" stroke-linecap="round"/>
<path d="M38.2 430.5L38.34 423.11L38.49 415.32L38.63 407.28L38.78 399.19L38.92 391.22L39.06 383.54L39.21 376.33L39.35 369.76L39.49 364.02L39.64 359.27L39.78 355.13L39.93 351.13L40.07 347.31L40.21 343.71L40.36 340.4L40.5 337.4L40.64 334.78L40.79 332.57L40.93 330.82L41.08 329.59L41.19 328.83L41.3 328.11L41.42 327.43L41.54 326.8L41.65 326.25L41.77 325.77L41.88 325.38L42 325.09L42.11 324.9L42.23 324.84L42.37 324.96L42.51 325.31L42.66 325.85L42.8 326.56L42.94 327.4L43.09 328.35L43.23 329.37L43.38 330.43L43.52 331.5L43.66 332.56L43.84 334.03L44.01 335.91L44.18 338.07L44.35 340.41L44.53 342.82L44.7 345.19L44.87 347.42L45.04 349.39L45.22 351L45.39 352.14L45.53 352.86L45.68 353.56L45.82 354.23L45.96 354.86L46.11 355.42L46.25 355.92L46.39 356.32L46.54 356.63L46.68 356.83L46.83 356.89L47.03 356.72L47.23 356.23L47.43 355.5L47.63 354.61L47.83 353.61L48.03 352.57L48.23 351.57L48.44 350.68L48.64 349.96L48.84 349.47L49.15 348.98L49.47 348.56L49.79 348.2L50.1 347.89L50.42 347.61L50.73 347.34L51.05 347.09L51.37 346.82L51.68 346.53L52 346.21L52.27 345.88L52.55 345.5L52.82 345.09L53.09 344.67L53.37 344.26L53.64 343.88L53.91 343.55L54.19 343.29L54.46 343.12L54.73 343.06L54.98 343.2L55.22 343.58L55.46 344.13L55.71 344.8L55.95 345.53L56.2 346.26L56.44 346.93L56.69 347.48L56.93 347.85L57.18 347.99L57.45 347.91L57.72 347.71L57.99 347.4L58.27 347.03L58.54 346.61L58.81 346.19L59.09 345.79L59.36 345.44L59.63 345.17L59.91 345.02L60.24 344.93L60.57 344.86L60.9 344.81L61.23 344.76L61.56 344.72L61.89 344.69L62.22 344.64L62.55 344.59L62.88 344.52L63.21 344.43L63.44 344.31L63.67 344.11L63.9 343.86L64.13 343.57L64.36 343.27L64.59 342.97L64.82 342.71L65.05 342.49L65.28 342.34L65.51 342.29L65.76 342.37L66 342.58L66.25 342.88L66.49 343.25L66.73 343.66L66.98 344.06L67.22 344.43L67.47 344.74L67.71 344.95L67.96 345.02L68.36 344.92L68.76 344.66L69.16 344.26L69.57 343.76L69.97 343.21L70.37 342.63L70.77 342.08L71.18 341.57L71.58 341.15L71.98 340.87L72.38 340.67L72.79 340.48L73.19 340.32L73.59 340.17L73.99 340.03L74.4 339.91L74.8 339.79L75.2 339.67L75.6 339.56L76.01 339.44L76.5 339.3L76.98 339.17L77.47 339.05L77.96 338.93L78.45 338.82L78.94 338.71L79.43 338.6L79.92 338.48L80.41 338.37L80.89 338.25L81.33 338.25L81.76 340.77L82.19 342.98L82.62 344.92L83.05 346.6L83.48 347.97L83.91 349.04L84.34 349.89L84.78 350.67L85.21 351.38L85.64 351.97L86.07 352.48L86.5 352.95L86.93 353.44L87.36 353.99L87.79 354.48L88.22 354.83L88.66 355.02L89.09 355.13L89.52 355.22L89.95 355.33L90.38 355.46L90.81 355.57L91.24 355.66L91.68 355.74L92.11 355.8L92.54 355.83L92.97 355.85L93.4 355.88L93.83 356L94.26 356.22L94.69 356.44L95.12 356.55L95.56 356.48L95.99 356.29L96.42 356.1L96.85 356.03L97.28 356L97.71 355.9L98.14 355.8L98.58 355.77L99.01 355.91L99.44 356.23L99.87 356.55L100.3 356.68L100.73 356.65L101.16 356.55L101.59 356.46L102.03 356.42L102.46 356.35L102.89 356.19L103.32 356.03L103.75 355.96L104.18 356.01L104.61 356.13L105.04 356.26L105.47 356.31L105.91 356.33L106.34 356.39L106.77 356.45L107.2 356.47L107.63 356.43L108.06 356.32L108.49 356.21L108.92 356.17L109.36 356.22L109.79 356.36L110.22 356.5L110.65 356.56L111.08 356.51L111.51 356.38L111.94 356.25L112.38 356.2L112.81 356.21L113.24 356.23L113.67 356.24L114.1 356.25L114.53 356.33L114.96 356.53L115.39 356.73L115.83 356.81L116.26 356.67L116.69 356.31L117.12 355.96L117.55 355.81L117.98 355.9L118.41 356.11L118.84 356.33L119.28 356.42L119.71 356.38L120.14 356.28L120.57 356.19L121 356.15L121.43 356.21L121.86 356.36L122.29 356.52L122.72 356.58L123.16 356.54L123.59 356.44L124.02 356.34L124.45 356.3L124.88 358.8L125.31 360.96L125.74 362.83L126.17 364.45L126.61 365.85L127.04 367.11L127.47 368.22L127.9 369.17L128.33 369.96L128.76 370.65L129.19 371.21L129.62 371.7L130.06 372.07L130.49 372.32L130.92 372.52L131.35 372.74L131.78 372.93L132.21 373.03L132.64 373.1L133.07 373.2L133.51 373.35L133.94 373.5L134.37 373.63L134.8 373.73L135.23 373.84L135.66 374.02L136.09 374.19L136.52 374.28L136.96 374.26L137.39 374.13L137.82 374.01L138.25 373.97L138.68 374.04L139.11 374.18L139.54 374.31L139.97 374.37L140.41 374.42L140.84 374.5L141.27 374.57L141.7 374.61L142.13 374.57L142.56 374.45L142.99 374.32L143.43 374.28L143.86 374.25L144.29 374.19L144.72 374.12L145.15 374.1L145.58 374.16L146.01 374.3L146.44 374.43L146.88 374.49L147.31 374.41L147.74 374.2L148.17 373.99L148.6 373.91L149.03 373.98L149.46 374.13L149.89 374.28L150.32 374.34L150.76 374.37L151.19 374.43L151.62 374.48L152.05 374.51L152.48 374.56L152.91 374.66L153.34 374.76L153.78 374.81L154.21 374.73L154.64 374.52L155.07 374.32L155.5 374.24L155.93 374.24L156.36 374.25L156.79 374.25L157.23 374.26L157.66 374.32L158.09 374.46L158.52 374.61L158.95 374.67L159.38 374.64L159.81 374.55L160.24 374.46L160.68 374.42L161.11 374.5L161.54 374.67L161.97 374.85L162.4 374.92L162.83 374.88L163.26 374.78L163.69 374.69L164.12 374.65L164.56 374.64L164.99 374.63L165.42 374.61L165.85 374.61L166.28 374.58L166.71 374.5L167.14 374.42L167.57 374.39L167.57 374.58L168.01 377.19L168.45 379.43L168.88 381.36L169.32 383.02L169.75 384.48L170.19 385.8L170.62 386.97L171.06 387.95L171.5 388.67L171.93 389.13L172.37 389.5L172.8 389.92L173.24 390.38L173.67 390.82L174.11 391.2L174.54 391.49L174.98 391.79L175.42 392.1L175.85 392.37L176.29 392.55L176.72 392.63L177.16 392.66L177.59 392.69L178.03 392.74L178.47 392.73L178.9 392.64L179.34 392.56L179.77 392.58L180.21 392.75L180.64 392.99L181.08 393.2L181.51 393.26L181.95 393.23L182.39 393.17L182.82 393.13L183.26 393.13L183.69 393.15L184.13 393.18L184.56 393.21L185 393.22L185.43 393.31L185.87 393.45L186.31 393.54L186.74 393.55L187.18 393.42L187.61 393.23L188.05 393.09L188.48 393.08L188.92 393.16L189.36 393.28L189.79 393.36L190.23 393.36L190.66 393.31L191.1 393.23L191.53 393.18L191.97 393.18L192.4 393.18L192.84 393.19L193.28 393.19L193.71 393.2L194.15 393.27L194.58 393.35L195.02 393.4L195.45 393.43L195.89 393.53L196.32 393.67L196.76 393.75L197.2 393.73L197.63 393.6L198.07 393.45L198.5 393.36L198.94 393.33L199.37 393.23L199.81 393.11L200.25 393.04L200.68 393.05L201.12 393.1L201.55 393.16L201.99 393.19L202.42 393.21L202.86 393.28L203.29 393.36L203.73 393.4L204.17 393.41L204.6 393.44L205.04 393.47L205.47 393.49L205.91 393.46L206.34 393.38L206.78 393.29L207.22 393.25L207.65 393.21L208.09 393.11L208.52 393.01L208.96 392.96L209.39 392.92L209.83 392.79L210.26 392.67L210.7 392.61L210.7 393.22L211.13 390.54L211.56 388.25L211.99 386.31L212.43 384.63L212.86 383.19L213.29 381.98L213.72 380.96L214.15 380.07L214.58 379.29L215.01 378.63L215.44 378.07L215.88 377.57L216.31 377.1L216.74 376.63L217.17 376.22L217.6 375.9L218.03 375.67L218.46 375.47L218.89 375.31L219.32 375.16L219.76 375.1L220.19 375.14L220.62 375.21L221.05 375.19L221.48 375.08L221.91 374.91L222.34 374.74L222.78 374.65L223.21 374.62L223.64 374.61L224.07 374.59L224.5 374.58L224.93 374.56L225.36 374.54L225.79 374.52L226.23 374.51L226.66 374.47L227.09 374.4L227.52 374.33L227.95 374.3L228.38 374.3L228.81 374.31L229.24 374.32L229.68 374.32L230.11 374.38L230.54 374.52L230.97 374.66L231.4 374.72L231.83 374.67L232.26 374.55L232.69 374.43L233.12 374.38L233.56 374.36L233.99 374.31L234.42 374.26L234.85 374.24L235.28 374.19L235.71 374.08L236.14 373.97L236.57 373.92L237.01 373.91L237.44 373.9L237.87 373.88L238.3 373.87L238.73 373.88L239.16 373.92L239.59 373.95L240.02 373.96L240.46 373.99L240.89 374.08L241.32 374.17L241.75 374.2L242.18 374.21L242.61 374.23L243.04 374.24L243.47 374.25L243.91 374.26L244.34 374.28L244.77 374.3L245.2 374.31L245.63 374.31L246.06 374.31L246.49 374.32L246.93 374.32L247.36 374.36L247.79 374.48L248.22 374.59L248.65 374.64L249.08 374.57L249.51 374.4L249.94 374.23L250.38 374.17L250.81 374.14L251.24 374.09L251.67 374.03L252.1 374.01L252.53 374.04L252.96 374.12L253.39 374.2L253.82 374.23L253.82 374.35L254.26 371.8L254.69 369.61L255.12 367.72L255.55 366.09L255.98 364.68L256.41 363.45L256.84 362.38L257.28 361.46L257.71 360.72L258.14 360.17L258.57 359.72L259 359.28L259.43 358.82L259.86 358.37L260.29 357.97L260.73 357.66L261.16 357.46L261.59 357.33L262.02 357.24L262.45 357.12L262.88 356.95L263.31 356.75L263.74 356.56L264.18 356.44L264.61 356.47L265.04 356.64L265.47 356.83L265.9 356.88L266.33 356.69L266.76 356.28L267.19 355.88L267.62 355.7L268.06 355.73L268.49 355.86L268.92 355.99L269.35 356.03L269.78 355.97L270.21 355.84L270.64 355.71L271.08 355.65L271.51 355.71L271.94 355.88L272.37 356.05L272.8 356.11L273.23 356.13L273.66 356.19L274.09 356.24L274.53 356.26L274.96 356.21L275.39 356.09L275.82 355.98L276.25 355.93L276.68 355.91L277.11 355.87L277.54 355.83L277.98 355.81L278.41 355.83L278.84 355.89L279.27 355.94L279.7 355.97L280.13 355.93L280.56 355.85L280.99 355.78L281.43 355.74L281.86 355.73L282.29 355.7L282.72 355.67L283.15 355.66L283.58 355.68L284.01 355.75L284.44 355.81L284.88 355.84L285.31 355.81L285.74 355.74L286.17 355.67L286.6 355.64L287.03 355.75L287.46 356.02L287.89 356.3L288.32 356.41L288.76 356.33L289.19 356.15L289.62 355.96L290.05 355.89L290.48 355.96L290.91 356.14L291.34 356.33L291.77 356.4L292.21 356.27L292.64 355.98L293.07 355.68L293.5 355.55L293.93 355.6L294.36 355.72L294.79 355.84L295.22 355.89L295.66 355.92L296.09 356L296.52 356.07L296.95 356.1L296.95 355.83L296.99 355.76L297.04 355.69L297.08 355.63L297.12 355.56L297.17 355.5L297.21 355.43L297.25 355.36L297.3 355.29L297.34 355.2L297.38 355.11L297.55 354.63L297.73 353.98L297.9 353.2L298.07 352.33L298.24 351.4L298.42 350.45L298.59 349.52L298.76 348.65L298.93 347.87L299.11 347.22L299.29 346.6L299.48 345.99L299.67 345.39L299.85 344.82L300.04 344.29L300.23 343.79L300.41 343.35L300.6 342.96L300.79 342.65L300.98 342.41L301.31 342.09L301.64 341.81L301.97 341.57L302.3 341.37L302.63 341.19L302.96 341.02L303.29 340.87L303.62 340.71L303.95 340.56L304.28 340.39L304.67 340.18L305.06 339.96L305.45 339.73L305.83 339.51L306.22 339.3L306.61 339.1L307 338.93L307.39 338.79L307.77 338.68L308.16 338.61L308.88 338.54L309.6 338.48L310.32 338.44L311.04 338.4L311.76 338.37L312.47 338.34L313.19 338.31L313.91 338.28L314.63 338.24L315.35 338.2L315.91 338.15L316.47 338.09L317.03 338.02L317.59 337.95L318.15 337.88L318.71 337.81L319.27 337.75L319.83 337.69L320.4 337.64L320.96 337.6L321.43 337.58L321.9 337.56L322.38 337.54L322.85 337.52L323.33 337.5L323.8 337.49L324.28 337.47L324.75 337.46L325.23 337.44L325.7 337.42" fill="none" stroke="#2e9a2e" stroke-width="1.45" stroke-linejoin="round" stroke-linecap="round"/>
<path d="M38.2 430.5L38.63 406.88L39.06 387.07L39.49 370.48L39.93 356.56L40.36 344.9L40.79 335.13L41.22 326.93L41.65 320.06L42.08 314.31L42.51 309.48L42.94 305.43L43.38 302.04L43.81 299.2L44.24 296.82L44.67 294.82L45.1 293.15L45.53 291.74L45.96 290.57L46.39 289.58L46.83 288.76L47.26 288.06L47.69 287.48L48.12 287L48.55 286.59L48.98 286.25L49.41 285.96L49.84 285.72L50.28 285.52L50.71 285.35L51.14 285.21L51.57 285.09L52 284.99L52.43 284.91L52.86 284.84L53.29 284.78L53.73 284.73L54.16 284.69L54.59 284.65L55.02 284.62L55.45 284.6L55.88 284.58L56.31 284.56L56.74 284.55L57.18 284.54L57.61 284.53L58.04 284.52L58.47 284.51L58.9 284.5L59.33 284.5L59.76 284.5L60.19 284.49L60.62 284.49L61.06 284.49L61.49 284.49L61.92 284.48L62.35 284.48L62.78 284.48L63.21 284.48L63.64 284.48L64.08 284.48L64.51 284.48L64.94 284.48L65.37 284.48L65.8 284.48L66.23 284.48L66.66 284.48L67.09 284.48L67.53 284.48L67.96 284.48L68.39 284.48L68.82 284.47L69.25 284.47L69.68 284.47L70.11 284.47L70.54 284.47L70.97 284.47L71.41 284.47L71.84 284.47L72.27 284.47L72.7 284.47L73.13 284.47L73.56 284.47L73.99 284.47L74.43 284.47L74.86 284.47L75.29 284.47L75.72 284.47L76.15 284.47L76.58 284.47L77.01 284.47L77.44 284.47L77.88 284.47L78.31 284.47L78.74 284.47L79.17 284.47L79.6 284.47L80.03 284.47L80.46 284.47L80.89 284.47L81.33 284.47L81.76 285.78L82.19 286.88L82.62 287.79L83.05 288.56L83.48 289.21L83.91 289.75L84.34 290.2L84.78 290.58L85.21 290.9L85.64 291.16L86.07 291.39L86.5 291.58L86.93 291.73L87.36 291.86L87.79 291.98L88.22 292.07L88.66 292.15L89.09 292.21L89.52 292.26L89.95 292.31L90.38 292.35L90.81 292.38L91.24 292.41L91.68 292.43L92.11 292.45L92.54 292.47L92.97 292.48L93.4 292.49L93.83 292.5L94.26 292.51L94.69 292.51L95.12 292.52L95.56 292.52L95.99 292.53L96.42 292.53L96.85 292.53L97.28 292.54L97.71 292.54L98.14 292.54L98.58 292.54L99.01 292.54L99.44 292.54L99.87 292.54L100.3 292.54L100.73 292.54L101.16 292.54L101.59 292.55L102.03 292.55L102.46 292.55L102.89 292.55L103.32 292.55L103.75 292.55L104.18 292.55L104.61 292.55L105.04 292.55L105.47 292.55L105.91 292.55L106.34 292.55L106.77 292.55L107.2 292.55L107.63 292.55L108.06 292.55L108.49 292.55L108.92 292.55L109.36 292.55L109.79 292.55L110.22 292.55L110.65 292.55L111.08 292.55L111.51 292.55L111.94 292.55L112.38 292.55L112.81 292.55L113.24 292.55L113.67 292.55L114.1 292.55L114.53 292.55L114.96 292.55L115.39 292.55L115.83 292.55L116.26 292.55L116.69 292.55L117.12 292.55L117.55 292.55L117.98 292.55L118.41 292.55L118.84 292.55L119.28 292.55L119.71 292.55L120.14 292.55L120.57 292.55L121 292.55L121.43 292.55L121.86 292.55L122.29 292.55L122.72 292.55L123.16 292.55L123.59 292.55L124.02 292.55L124.45 292.55L124.88 293.97L125.31 295.16L125.74 296.16L126.17 297L126.61 297.7L127.04 298.29L127.47 298.78L127.9 299.19L128.33 299.54L128.76 299.83L129.19 300.07L129.62 300.28L130.06 300.45L130.49 300.59L130.92 300.71L131.35 300.81L131.78 300.9L132.21 300.97L132.64 301.03L133.07 301.08L133.51 301.12L133.94 301.15L134.37 301.18L134.8 301.21L135.23 301.23L135.66 301.24L136.09 301.26L136.52 301.27L136.96 301.28L137.39 301.29L137.82 301.3L138.25 301.3L138.68 301.31L139.11 301.31L139.54 301.31L139.97 301.32L140.41 301.32L140.84 301.32L141.27 301.32L141.7 301.33L142.13 301.33L142.56 301.33L142.99 301.33L143.43 301.33L143.86 301.33L144.29 301.33L144.72 301.33L145.15 301.33L145.58 301.33L146.01 301.33L146.44 301.33L146.88 301.33L147.31 301.33L147.74 301.33L148.17 301.33L148.6 301.33L149.03 301.33L149.46 301.33L149.89 301.33L150.32 301.33L150.76 301.33L151.19 301.33L151.62 301.33L152.05 301.33L152.48 301.33L152.91 301.33L153.34 301.33L153.78 301.33L154.21 301.33L154.64 301.33L155.07 301.33L155.5 301.33L155.93 301.33L156.36 301.33L156.79 301.33L157.23 301.33L157.66 301.33L158.09 301.33L158.52 301.33L158.95 301.33L159.38 301.33L159.81 301.33L160.24 301.33L160.68 301.33L161.11 301.33L161.54 301.33L161.97 301.33L162.4 301.33L162.83 301.33L163.26 301.33L163.69 301.33L164.12 301.33L164.56 301.33L164.99 301.33L165.42 301.33L165.85 301.33L166.28 301.33L166.71 301.33L167.14 301.33L167.57 301.33L168.01 300.42L168.45 299.66L168.88 299.02L169.32 298.49L169.75 298.04L170.19 297.67L170.62 297.36L171.06 297.09L171.5 296.87L171.93 296.69L172.37 296.54L172.8 296.41L173.24 296.3L173.67 296.21L174.11 296.14L174.54 296.07L174.98 296.02L175.42 295.98L175.85 295.94L176.29 295.91L176.72 295.88L177.16 295.86L177.59 295.85L178.03 295.83L178.47 295.82L178.9 295.81L179.34 295.8L179.77 295.79L180.21 295.78L180.64 295.78L181.08 295.78L181.51 295.77L181.95 295.77L182.39 295.77L182.82 295.76L183.26 295.76L183.69 295.76L184.13 295.76L184.56 295.76L185 295.76L185.43 295.76L185.87 295.76L186.31 295.76L186.74 295.75L187.18 295.75L187.61 295.75L188.05 295.75L188.48 295.75L188.92 295.75L189.36 295.75L189.79 295.75L190.23 295.75L190.66 295.75L191.1 295.75L191.53 295.75L191.97 295.75L192.4 295.75L192.84 295.75L193.28 295.75L193.71 295.75L194.15 295.75L194.58 295.75L195.02 295.75L195.45 295.75L195.89 295.75L196.32 295.75L196.76 295.75L197.2 295.75L197.63 295.75L198.07 295.75L198.5 295.75L198.94 295.75L199.37 295.75L199.81 295.75L200.25 295.75L200.68 295.75L201.12 295.75L201.55 295.75L201.99 295.75L202.42 295.75L202.86 295.75L203.29 295.75L203.73 295.75L204.17 295.75L204.6 295.75L205.04 295.75L205.47 295.75L205.91 295.75L206.34 295.75L206.78 295.75L207.22 295.75L207.65 295.75L208.09 295.75L208.52 295.75L208.96 295.75L209.39 295.75L209.83 295.75L210.26 295.75L210.7 295.75L211.13 296.67L211.56 297.45L211.99 298.1L212.43 298.64L212.86 299.09L213.29 299.47L213.72 299.79L214.15 300.06L214.58 300.29L215.01 300.48L215.44 300.63L215.88 300.77L216.31 300.88L216.74 300.97L217.17 301.05L217.6 301.11L218.03 301.17L218.46 301.21L218.89 301.25L219.32 301.28L219.76 301.31L220.19 301.33L220.62 301.35L221.05 301.37L221.48 301.38L221.91 301.39L222.34 301.4L222.78 301.41L223.21 301.42L223.64 301.42L224.07 301.43L224.5 301.43L224.93 301.43L225.36 301.44L225.79 301.44L226.23 301.44L226.66 301.44L227.09 301.44L227.52 301.45L227.95 301.45L228.38 301.45L228.81 301.45L229.24 301.45L229.68 301.45L230.11 301.45L230.54 301.45L230.97 301.45L231.4 301.45L231.83 301.45L232.26 301.45L232.69 301.45L233.12 301.45L233.56 301.45L233.99 301.45L234.42 301.45L234.85 301.45L235.28 301.45L235.71 301.45L236.14 301.45L236.57 301.45L237.01 301.45L237.44 301.45L237.87 301.45L238.3 301.45L238.73 301.45L239.16 301.45L239.59 301.45L240.02 301.45L240.46 301.45L240.89 301.45L241.32 301.45L241.75 301.45L242.18 301.45L242.61 301.45L243.04 301.45L243.47 301.45L243.91 301.45L244.34 301.45L244.77 301.45L245.2 301.45L245.63 301.45L246.06 301.45L246.49 301.45L246.93 301.45L247.36 301.45L247.79 301.45L248.22 301.45L248.65 301.45L249.08 301.45L249.51 301.45L249.94 301.45L250.38 301.45L250.81 301.45L251.24 301.45L251.67 301.45L252.1 301.45L252.53 301.45L252.96 301.45L253.39 301.45L253.82 301.45L254.26 300.15L254.69 299.05L255.12 298.13L255.55 297.36L255.98 296.72L256.41 296.18L256.84 295.73L257.28 295.35L257.71 295.03L258.14 294.76L258.57 294.54L259 294.35L259.43 294.19L259.86 294.06L260.29 293.95L260.73 293.86L261.16 293.78L261.59 293.72L262.02 293.66L262.45 293.62L262.88 293.58L263.31 293.54L263.74 293.52L264.18 293.5L264.61 293.48L265.04 293.46L265.47 293.45L265.9 293.44L266.33 293.43L266.76 293.42L267.19 293.41L267.62 293.41L268.06 293.4L268.49 293.4L268.92 293.4L269.35 293.39L269.78 293.39L270.21 293.39L270.64 293.39L271.08 293.39L271.51 293.38L271.94 293.38L272.37 293.38L272.8 293.38L273.23 293.38L273.66 293.38L274.09 293.38L274.53 293.38L274.96 293.38L275.39 293.38L275.82 293.38L276.25 293.38L276.68 293.38L277.11 293.38L277.54 293.38L277.98 293.38L278.41 293.38L278.84 293.38L279.27 293.38L279.7 293.38L280.13 293.38L280.56 293.38L280.99 293.38L281.43 293.38L281.86 293.38L282.29 293.38L282.72 293.38L283.15 293.38L283.58 293.38L284.01 293.38L284.44 293.38L284.88 293.38L285.31 293.38L285.74 293.38L286.17 293.38L286.6 293.38L287.03 293.38L287.46 293.38L287.89 293.38L288.32 293.38L288.76 293.38L289.19 293.38L289.62 293.38L290.05 293.38L290.48 293.38L290.91 293.38L291.34 293.38L291.77 293.38L292.21 293.38L292.64 293.38L293.07 293.38L293.5 293.38L293.93 293.38L294.36 293.38L294.79 293.38L295.22 293.38L295.66 293.38L296.09 293.38L296.52 293.38L296.95 293.38L297.39 291.92L297.82 290.71L298.26 289.69L298.69 288.84L299.13 288.13L299.56 287.53L300 287.03L300.43 286.61L300.87 286.26L301.31 285.97L301.74 285.73L302.18 285.52L302.61 285.35L303.05 285.21L303.48 285.09L303.92 284.99L304.36 284.9L304.79 284.83L305.23 284.78L305.66 284.73L306.1 284.69L306.53 284.65L306.97 284.62L307.4 284.6L307.84 284.58L308.28 284.56L308.71 284.55L309.15 284.53L309.58 284.53L310.02 284.52L310.45 284.51L310.89 284.5L311.32 284.5L311.76 284.5L312.2 284.49L312.63 284.49L313.07 284.49L313.5 284.48L313.94 284.48L314.37 284.48L314.81 284.48L315.25 284.48L315.68 284.48L316.12 284.48L316.55 284.48L316.99 284.48L317.42 284.48L317.86 284.48L318.29 284.48L318.73 284.48L319.17 284.48L319.6 284.48L320.04 284.48L320.47 284.47L320.91 284.47L321.34 284.47L321.78 284.47L322.22 284.47L322.65 284.47L323.09 284.47L323.52 284.47L323.96 284.47L324.39 284.47L324.83 284.47L325.26 284.47L325.7 284.47" fill="none" stroke="#0000ff" stroke-width="2.45" stroke-linejoin="round" stroke-linecap="round"/>
<line x1="38.20" y1="266.00" x2="325.70" y2="266.00" stroke="#999" stroke-width="1.7" stroke-linecap="square"/>
<line x1="38.20" y1="266.00" x2="38.20" y2="448.40" stroke="#999" stroke-width="1.7" stroke-linecap="square"/>
<line x1="325.70" y1="266.00" x2="325.70" y2="448.40" stroke="#666" stroke-width="1.3" stroke-linecap="square"/>
<line x1="38.20" y1="448.40" x2="325.70" y2="448.40" stroke="#707070" stroke-width="1.3" stroke-linecap="square"/>
<rect x="204.50" y="393.80" width="121.20" height="54.60" fill="#fff" stroke="#3a3a3a" stroke-width="1"/>
<line x1="207.80" y1="401.20" x2="239.30" y2="401.20" stroke="#0000ff" stroke-width="2.3"/>
<text x="242.30" y="405.26" font-size="9.6">Proposed Method</text>
<line x1="207.80" y1="414.60" x2="239.30" y2="414.60" stroke="#2e9a2e" stroke-width="1.6"/>
<text x="242.30" y="418.66" font-size="9.6">CUSA</text>
<line x1="207.80" y1="427.60" x2="239.30" y2="427.60" stroke="#ff2a2a" stroke-width="1.5"/>
<text x="242.30" y="431.66" font-size="9.6">GWO</text>
<line x1="207.80" y1="440.80" x2="239.30" y2="440.80" stroke="#ff00ff" stroke-width="1.5"/>
<text x="242.30" y="444.86" font-size="9.6">PSO</text>
<text x="33.50" y="434.10" font-size="10" text-anchor="end">0</text>
<text x="33.50" y="404.42" font-size="10" text-anchor="end">50</text>
<text x="33.50" y="374.74" font-size="10" text-anchor="end">100</text>
<text x="33.50" y="345.06" font-size="10" text-anchor="end">150</text>
<text x="33.50" y="315.38" font-size="10" text-anchor="end">200</text>
<text x="33.50" y="285.70" font-size="10" text-anchor="end">250</text>
<text x="38.20" y="464.60" font-size="10" text-anchor="middle">0</text>
<text x="110.08" y="464.60" font-size="10" text-anchor="middle">0.5</text>
<text x="181.95" y="464.60" font-size="10" text-anchor="middle">1</text>
<text x="253.82" y="464.60" font-size="10" text-anchor="middle">1.5</text>
<text x="325.70" y="464.60" font-size="10" text-anchor="middle">2</text>
<text x="182.60" y="480.00" font-size="11.6" text-anchor="middle">Time (sec)</text>
<text transform="translate(8.60 357.60) rotate(-90)" font-size="11.7" text-anchor="middle" class="yl">PV Voltage (V)</text>
<text x="201.60" y="497.60" font-size="13.5" text-anchor="middle" class="cap">(ii)</text>
<line x1="385.15" y1="448.40" x2="385.15" y2="264.40" class="mn" stroke-dasharray="0.9 1.73"/>
<line x1="400.70" y1="448.40" x2="400.70" y2="264.40" class="mn" stroke-dasharray="0.9 1.73"/>
<line x1="416.25" y1="448.40" x2="416.25" y2="264.40" class="mn" stroke-dasharray="0.9 1.73"/>
<line x1="431.80" y1="448.40" x2="431.80" y2="264.40" class="mn" stroke-dasharray="0.9 1.73"/>
<line x1="462.90" y1="448.40" x2="462.90" y2="264.40" class="mn" stroke-dasharray="0.9 1.73"/>
<line x1="478.45" y1="448.40" x2="478.45" y2="264.40" class="mn" stroke-dasharray="0.9 1.73"/>
<line x1="494.00" y1="448.40" x2="494.00" y2="264.40" class="mn" stroke-dasharray="0.9 1.73"/>
<line x1="509.55" y1="448.40" x2="509.55" y2="264.40" class="mn" stroke-dasharray="0.9 1.73"/>
<line x1="540.65" y1="448.40" x2="540.65" y2="264.40" class="mn" stroke-dasharray="0.9 1.73"/>
<line x1="556.20" y1="448.40" x2="556.20" y2="264.40" class="mn" stroke-dasharray="0.9 1.73"/>
<line x1="571.75" y1="448.40" x2="571.75" y2="264.40" class="mn" stroke-dasharray="0.9 1.73"/>
<line x1="587.30" y1="448.40" x2="587.30" y2="264.40" class="mn" stroke-dasharray="0.9 1.73"/>
<line x1="618.40" y1="448.40" x2="618.40" y2="264.40" class="mn" stroke-dasharray="0.9 1.73"/>
<line x1="633.95" y1="448.40" x2="633.95" y2="264.40" class="mn" stroke-dasharray="0.9 1.73"/>
<line x1="649.50" y1="448.40" x2="649.50" y2="264.40" class="mn" stroke-dasharray="0.9 1.73"/>
<line x1="665.05" y1="448.40" x2="665.05" y2="264.40" class="mn" stroke-dasharray="0.9 1.73"/>
<line x1="369.60" y1="439.32" x2="680.60" y2="439.32" class="mn" stroke-dasharray="0.9 1.73"/>
<line x1="369.60" y1="430.20" x2="680.60" y2="430.20" class="mn" stroke-dasharray="0.9 1.73"/>
<line x1="369.60" y1="421.07" x2="680.60" y2="421.07" class="mn" stroke-dasharray="0.9 1.73"/>
<line x1="369.60" y1="411.95" x2="680.60" y2="411.95" class="mn" stroke-dasharray="0.9 1.73"/>
<line x1="369.60" y1="402.82" x2="680.60" y2="402.82" class="mn" stroke-dasharray="0.9 1.73"/>
<line x1="369.60" y1="393.70" x2="680.60" y2="393.70" class="mn" stroke-dasharray="0.9 1.73"/>
<line x1="369.60" y1="384.57" x2="680.60" y2="384.57" class="mn" stroke-dasharray="0.9 1.73"/>
<line x1="369.60" y1="375.45" x2="680.60" y2="375.45" class="mn" stroke-dasharray="0.9 1.73"/>
<line x1="369.60" y1="366.32" x2="680.60" y2="366.32" class="mn" stroke-dasharray="0.9 1.73"/>
<line x1="369.60" y1="357.20" x2="680.60" y2="357.20" class="mn" stroke-dasharray="0.9 1.73"/>
<line x1="369.60" y1="348.07" x2="680.60" y2="348.07" class="mn" stroke-dasharray="0.9 1.73"/>
<line x1="369.60" y1="338.95" x2="680.60" y2="338.95" class="mn" stroke-dasharray="0.9 1.73"/>
<line x1="369.60" y1="329.82" x2="680.60" y2="329.82" class="mn" stroke-dasharray="0.9 1.73"/>
<line x1="369.60" y1="320.70" x2="680.60" y2="320.70" class="mn" stroke-dasharray="0.9 1.73"/>
<line x1="369.60" y1="311.57" x2="680.60" y2="311.57" class="mn" stroke-dasharray="0.9 1.73"/>
<line x1="369.60" y1="302.45" x2="680.60" y2="302.45" class="mn" stroke-dasharray="0.9 1.73"/>
<line x1="369.60" y1="293.32" x2="680.60" y2="293.32" class="mn" stroke-dasharray="0.9 1.73"/>
<line x1="369.60" y1="284.20" x2="680.60" y2="284.20" class="mn" stroke-dasharray="0.9 1.73"/>
<line x1="369.60" y1="275.07" x2="680.60" y2="275.07" class="mn" stroke-dasharray="0.9 1.73"/>
<line x1="369.60" y1="265.95" x2="680.60" y2="265.95" class="mn" stroke-dasharray="0.9 1.73"/>
<line x1="369.60" y1="430.20" x2="680.60" y2="430.20" class="mjh" stroke-dasharray="6.8 3.9" stroke-dashoffset="6.1"/>
<line x1="369.60" y1="393.70" x2="680.60" y2="393.70" class="mjh" stroke-dasharray="6.8 3.9" stroke-dashoffset="6.1"/>
<line x1="369.60" y1="357.20" x2="680.60" y2="357.20" class="mjh" stroke-dasharray="6.8 3.9" stroke-dashoffset="6.1"/>
<line x1="369.60" y1="320.70" x2="680.60" y2="320.70" class="mjh" stroke-dasharray="6.8 3.9" stroke-dashoffset="6.1"/>
<line x1="369.60" y1="284.20" x2="680.60" y2="284.20" class="mjh" stroke-dasharray="6.8 3.9" stroke-dashoffset="6.1"/>
<line x1="447.35" y1="448.40" x2="447.35" y2="264.40" class="mjv" stroke-dasharray="6.6 4.3" stroke="#4d4d4d" stroke-width="1.15"/>
<line x1="525.10" y1="448.40" x2="525.10" y2="264.40" class="mjv" stroke-dasharray="6.6 4.3" stroke="#4d4d4d" stroke-width="1.15"/>
<line x1="602.85" y1="448.40" x2="602.85" y2="264.40" class="mjv" stroke-dasharray="6.6 4.3" stroke="#4d4d4d" stroke-width="1.15"/>
<path d="M369.6 430.2L369.79 424.14L369.97 417.73L370.16 411.13L370.35 404.47L370.53 397.92L370.72 391.61L370.91 385.69L371.09 380.32L371.28 375.64L371.47 371.8L371.75 367.4L372.03 362.84L372.31 358.26L372.59 353.8L372.87 349.61L373.15 345.83L373.43 342.6L373.71 340.07L373.99 338.38L374.27 337.67L374.5 337.87L374.73 338.69L374.96 340.04L375.2 341.83L375.43 343.99L375.66 346.42L375.9 349.04L376.13 351.77L376.36 354.52L376.6 357.2L376.82 359.73L377.03 362.36L377.25 365L377.47 367.57L377.69 369.98L377.9 372.12L378.12 373.93L378.34 375.29L378.56 376.14L378.77 376.36L379.1 375.39L379.43 372.97L379.75 369.36L380.08 364.8L380.41 359.54L380.73 353.85L381.06 347.96L381.39 342.13L381.71 336.61L382.04 331.65L382.41 326.48L382.79 321.53L383.16 316.89L383.53 312.63L383.91 308.83L384.28 305.57L384.65 302.93L385.03 300.99L385.4 299.83L385.77 299.53L386.1 300.02L386.43 301.15L386.75 302.84L387.08 304.98L387.4 307.51L387.73 310.31L388.06 313.3L388.38 316.4L388.71 319.5L389.04 322.52L389.38 325.74L389.72 329.11L390.06 332.54L390.41 335.9L390.75 339.08L391.09 341.98L391.43 344.47L391.77 346.46L392.12 347.82L392.46 348.44L392.89 348.17L393.33 346.93L393.76 344.89L394.2 342.22L394.64 339.09L395.07 335.67L395.51 332.13L395.94 328.65L396.38 325.39L396.81 322.52L397.23 320.08L397.65 317.8L398.07 315.71L398.49 313.85L398.91 312.25L399.33 310.94L399.75 309.94L400.17 309.3L400.59 309.04L401.01 309.2L401.49 310.01L401.98 311.45L402.46 313.36L402.94 315.59L403.42 317.98L403.9 320.37L404.39 322.6L404.87 324.51L405.35 325.93L405.83 326.72L406.25 326.88L406.67 326.66L407.09 326.11L407.51 325.28L407.93 324.22L408.35 322.97L408.77 321.58L409.19 320.1L409.61 318.57L410.03 317.05L410.5 315.33L410.96 313.55L411.43 311.8L411.9 310.16L412.36 308.71L412.83 307.54L413.3 306.72L413.76 306.33L414.23 306.46L414.7 307.2L415.02 308.3L415.35 310.04L415.67 312.27L416 314.86L416.33 317.67L416.65 320.55L416.98 323.36L417.31 325.97L417.63 328.23L417.96 330.01L418.27 331.34L418.58 332.49L418.89 333.48L419.2 334.31L419.52 334.97L419.83 335.48L420.14 335.84L420.45 336.04L420.76 336.11L421.07 336.03L421.57 335.66L422.07 335.08L422.56 334.35L423.06 333.54L423.56 332.72L424.06 331.96L424.55 331.33L425.05 330.9L425.55 330.74L426.05 330.92L426.44 331.43L426.82 332.31L427.21 333.47L427.6 334.83L427.99 336.3L428.38 337.78L428.77 339.19L429.16 340.43L429.55 341.41L429.93 342.05L430.43 342.48L430.93 342.65L431.43 342.59L431.92 342.33L432.42 341.89L432.92 341.31L433.42 340.61L433.91 339.81L434.41 338.95L434.91 338.04L435.41 337.05L435.91 335.97L436.4 334.85L436.9 333.73L437.4 332.66L437.9 331.71L438.39 330.92L438.89 330.33L439.39 330.01L439.89 330.01L440.29 330.3L440.69 330.86L441.1 331.63L441.5 332.56L441.91 333.58L442.31 334.63L442.72 335.66L443.12 336.61L443.52 337.42L443.93 338.04L444.24 338.39L444.55 338.7L444.86 338.95L445.17 339.14L445.48 339.28L445.8 339.35L446.11 339.35L446.42 339.29L446.73 339.16L447.04 338.95L447.54 338.38L448.03 337.51L448.53 336.44L449.03 335.26L449.53 334.06L450.02 332.93L450.52 331.96L451.02 331.24L451.52 330.86L452.02 330.92L452.42 331.35L452.82 332.09L453.23 333.04L453.63 334.12L454.04 335.22L454.44 336.27L454.85 337.16L455.25 337.82L455.65 338.14L456.06 338.04L456.24 337.8L456.43 337.42L456.62 336.94L456.8 336.39L456.99 335.83L457.18 335.28L457.36 334.79L457.55 334.39L457.74 334.12L457.92 334.02L458.13 334.14L458.33 334.46L458.53 334.95L458.73 335.54L458.93 336.21L459.14 336.9L459.34 337.56L459.54 338.15L459.74 338.63L459.95 338.95L460.19 339.15L460.44 339.23L460.69 339.19L460.94 339.05L461.19 338.84L461.44 338.56L461.69 338.23L461.94 337.87L462.18 337.5L462.43 337.12L462.68 338.03L462.93 338.97L463.18 339.91L463.43 340.86L463.68 341.8L463.93 342.72L464.18 343.62L464.42 344.49L464.67 345.3L464.92 346.07L465.19 346.85L465.45 347.63L465.71 348.4L465.98 349.15L466.24 349.87L466.51 350.55L466.77 351.18L467.04 351.74L467.3 352.23L467.57 352.64L467.81 352.97L468.06 353.29L468.31 353.59L468.56 353.87L468.81 354.13L469.06 354.36L469.31 354.57L469.56 354.75L469.8 354.89L470.05 355.01L470.44 355.16L470.83 355.3L471.22 355.43L471.61 355.55L472 355.66L472.39 355.75L472.77 355.82L473.16 355.88L473.55 355.91L473.94 355.92L474.55 355.86L475.15 355.68L475.76 355.41L476.37 355.09L476.97 354.74L477.58 354.39L478.19 354.06L478.79 353.8L479.4 353.62L480 353.55L480.61 353.61L481.22 353.76L481.82 353.98L482.43 354.26L483.04 354.55L483.64 354.85L484.25 355.12L484.86 355.35L485.46 355.5L486.07 355.56L486.66 355.51L487.25 355.39L487.84 355.2L488.43 354.98L489.02 354.74L489.61 354.49L490.21 354.27L490.8 354.09L491.39 353.96L491.98 353.91L492.58 353.95L493.19 354.03L493.8 354.15L494.4 354.3L495.01 354.46L495.62 354.62L496.22 354.77L496.83 354.9L497.44 354.98L498.04 355.01L498.84 354.98L499.63 354.89L500.42 354.76L501.22 354.6L502.01 354.41L502.8 354.21L503.59 354.02L504.39 353.83L505.18 353.67L505.97 353.55L506.32 353.51L506.66 353.47L507 353.43L507.34 353.39L507.68 353.36L508.03 353.32L508.37 353.29L508.71 353.26L509.05 353.22L509.39 353.19L509.55 353.19L509.86 353.18L510.33 356.51L510.8 359.44L511.27 362.01L511.73 364.23L512.2 366.15L512.67 367.81L513.14 369.26L513.61 370.54L514.07 371.6L514.54 372.5L515.01 373.3L515.48 374.05L515.95 374.75L516.41 375.39L516.88 375.92L517.35 376.32L517.82 376.58L518.29 376.77L518.75 376.98L519.22 377.23L519.69 377.48L520.16 377.72L520.63 377.91L521.09 378.04L521.56 378.11L522.03 378.16L522.5 378.23L522.97 378.35L523.44 378.59L523.9 378.84L524.37 379L524.84 379L525.31 378.87L525.78 378.7L526.24 378.62L526.71 378.67L527.18 378.78L527.65 378.9L528.12 378.97L528.58 379.01L529.05 379.07L529.52 379.15L529.99 379.19L530.46 379.17L530.92 379.1L531.39 379.01L531.86 378.97L532.33 378.99L532.8 379.04L533.26 379.1L533.73 379.13L534.2 379.14L534.67 379.16L535.14 379.19L535.6 379.2L536.07 379.18L536.54 379.13L537.01 379.08L537.48 379.05L537.95 379.03L538.41 378.97L538.88 378.9L539.35 378.86L539.82 378.88L540.29 378.94L540.75 379L541.22 379.03L541.69 379.02L542.16 378.99L542.63 378.95L543.09 378.94L543.56 378.95L544.03 378.99L544.5 379.03L544.97 379.05L545.43 379.04L545.9 379L546.37 378.96L546.84 378.94L547.31 378.98L547.77 379.07L548.24 379.17L548.71 379.21L549.18 379.2L549.65 379.18L550.12 379.15L550.58 379.14L551.05 379.13L551.52 379.09L551.99 379.06L552.46 379.04L552.92 379.05L553.39 379.06L553.86 379.08L554.33 379.09L554.8 379.09L555.26 379.1L555.73 379.11L556.2 379.12L556.2 379.1L556.67 379.1L557.13 376.8L557.6 374.71L558.07 372.81L558.53 371.11L559 369.57L559.47 368.19L559.93 366.93L560.4 365.77L560.87 364.72L561.33 363.76L561.8 362.89L562.26 362.08L562.73 361.3L563.2 360.58L563.66 359.97L564.13 359.47L564.6 359.09L565.06 358.75L565.53 358.38L566 358.03L566.46 357.73L566.93 357.46L567.4 357.19L567.86 356.96L568.33 356.79L568.8 356.63L569.26 356.46L569.73 356.26L570.19 356.07L570.66 355.89L571.13 355.74L571.59 355.61L572.06 355.5L572.53 355.4L572.99 355.3L573.46 355.17L573.93 355.03L574.39 354.88L574.86 354.78L575.33 354.71L575.79 354.64L576.26 354.58L576.73 354.52L577.19 354.43L577.66 354.28L578.13 354.15L578.59 354.06L579.06 354.01L579.52 353.97L579.99 353.93L580.46 353.89L580.92 353.8L581.39 353.66L581.86 353.53L582.32 353.44L582.79 353.42L583.26 353.44L583.72 353.45L584.19 353.43L584.66 353.4L585.12 353.39L585.59 353.38L586.06 353.35L586.52 353.33L586.99 353.34L587.46 353.35L587.92 353.33L588.39 353.28L588.86 353.2L589.32 353.12L589.79 353.06L590.25 353.02L590.72 352.98L591.19 352.93L591.65 352.89L592.12 352.89L592.59 352.92L593.05 352.96L593.52 352.95L593.99 352.88L594.45 352.77L594.92 352.65L595.39 352.59L595.85 352.57L596.32 352.57L596.79 352.58L597.25 352.56L597.72 352.52L598.19 352.48L598.65 352.44L599.12 352.41L599.58 352.4L600.05 352.42L600.52 352.44L600.98 352.43L601.45 352.39L601.92 352.35L602.38 352.32L602.85 352.28L602.85 352.12L603.01 352.13L603.48 347.52L603.94 343.78L604.41 340.75L604.88 338.32L605.35 336.36L605.82 334.79L606.29 333.52L606.76 332.49L607.23 331.66L607.7 330.99L608.17 330.45L608.64 330.01L609.11 329.64L609.58 329.32L610.05 329.07L610.52 328.88L610.99 328.74L611.46 328.64L611.93 328.56L612.4 328.48L612.87 328.46L613.34 328.48L613.81 328.48L614.28 328.43L614.75 328.28L615.22 328.09L615.69 327.95L616.16 327.92L616.63 328.01L617.09 328.15L617.56 328.23L618.03 328.22L618.5 328.13L618.97 328.02L619.44 327.94L619.91 327.93L620.38 327.94L620.85 327.96L621.32 327.97L621.79 327.95L622.26 327.88L622.73 327.8L623.2 327.75L623.67 327.72L624.14 327.65L624.61 327.56L625.08 327.5L625.55 327.5L626.02 327.57L626.49 327.67L626.96 327.72L627.43 327.74L627.9 327.83L628.37 327.95L628.84 328.02L629.31 328.02L629.78 328L630.24 327.99L630.71 327.98L631.18 327.94L631.65 327.81L632.12 327.67L632.59 327.58L633.06 327.55L633.53 327.46L634 327.36L634.47 327.31L634.94 327.34L635.41 327.49L635.88 327.66L636.35 327.75L636.82 327.75L637.29 327.77L637.76 327.8L638.23 327.81L638.7 327.77L639.17 327.64L639.64 327.51L640.11 327.44L640.58 327.44L641.05 327.49L641.52 327.54L641.99 327.56L642.46 327.56L642.93 327.58L643.39 327.61L643.86 327.62L644.33 327.6L644.8 327.58L645.27 327.55L645.74 327.54L646.21 327.5L646.68 327.41L647.15 327.33L647.62 327.29L648.09 327.24L648.56 327.16L649.03 327.07L649.5 327.03L649.5 327.27L649.66 327.27L650.12 324.07L650.59 321.31L651.06 318.92L651.53 316.83L652 315L652.47 313.4L652.94 312L653.41 310.79L653.88 309.75L654.34 308.85L654.81 308.06L655.28 307.35L655.75 306.65L656.22 305.99L656.69 305.43L657.16 305L657.63 304.64L658.09 304.33L658.56 304.05L659.03 303.82L659.5 303.69L659.97 303.63L660.44 303.56L660.91 303.43L661.38 303.24L661.85 303.04L662.31 302.88L662.78 302.79L663.25 302.72L663.72 302.67L664.19 302.63L664.66 302.58L665.13 302.57L665.6 302.58L666.07 302.58L666.53 302.55L667 302.49L667.47 302.41L667.94 302.36L668.41 302.34L668.88 302.35L669.35 302.38L669.82 302.39L670.29 302.37L670.75 302.27L671.22 302.14L671.69 302.05L672.16 302.04L672.63 302.07L673.1 302.11L673.57 302.13L674.04 302.13L674.5 302.13L674.97 302.13L675.44 302.13L675.91 302.12L676.38 302.1L676.85 302.08L677.32 302.06L677.79 302.06L678.26 302.11L678.72 302.16L679.19 302.2L679.66 302.2L680.13 302.24L680.6 302.28" fill="none" stroke="#ff00ff" stroke-width="1.4" stroke-linejoin="round" stroke-linecap="round"/>
<path d="M369.6 430.2L369.66 426.01L369.72 421.56L369.79 416.95L369.85 412.31L369.91 407.74L369.97 403.36L370.04 399.29L370.1 395.64L370.16 392.52L370.22 390.05L370.35 386.02L370.47 382.36L370.6 379.05L370.72 376.06L370.84 373.36L370.97 370.94L371.09 368.78L371.22 366.85L371.34 365.12L371.47 363.59L371.7 360.95L371.93 358.48L372.17 356.19L372.4 354.09L372.63 352.19L372.87 350.5L373.1 349.03L373.33 347.8L373.57 346.81L373.8 346.07L374.13 345.27L374.45 344.58L374.78 343.98L375.1 343.46L375.43 343L375.76 342.59L376.08 342.21L376.41 341.85L376.74 341.5L377.06 341.14L377.65 340.46L378.25 339.75L378.84 339.06L379.43 338.38L380.02 337.75L380.61 337.19L381.2 336.71L381.79 336.35L382.38 336.11L382.97 336.03L383.58 336.16L384.19 336.52L384.79 337.05L385.4 337.7L386.01 338.4L386.61 339.1L387.22 339.75L387.82 340.28L388.43 340.64L389.04 340.77L389.4 340.72L389.75 340.56L390.11 340.32L390.47 340.02L390.83 339.68L391.18 339.32L391.54 338.95L391.9 338.61L392.26 338.29L392.61 338.04L393.27 337.62L393.92 337.18L394.57 336.73L395.23 336.3L395.88 335.89L396.53 335.52L397.19 335.21L397.84 334.96L398.49 334.81L399.15 334.75L399.38 334.79L399.61 334.89L399.84 335.03L400.08 335.2L400.31 335.39L400.54 335.58L400.78 335.75L401.01 335.9L401.24 335.99L401.48 336.03L401.82 336.01L402.16 335.94L402.5 335.85L402.85 335.72L403.19 335.57L403.53 335.41L403.87 335.24L404.21 335.07L404.56 334.91L404.9 334.75L405.23 334.6L405.55 334.44L405.88 334.27L406.2 334.09L406.53 333.9L406.86 333.72L407.18 333.55L407.51 333.39L407.84 333.24L408.16 333.11L408.93 332.85L409.69 332.61L410.45 332.4L411.21 332.2L411.97 332.01L412.74 331.83L413.5 331.66L414.26 331.48L415.02 331.3L415.78 331.1L416.25 331.1L416.72 333.75L417.18 336.03L417.65 337.97L418.12 339.64L418.58 341.08L419.05 342.31L419.52 343.36L419.98 344.27L420.45 345.14L420.92 346.06L421.38 346.89L421.85 347.49L422.31 347.84L422.78 348L423.25 348.1L423.71 348.29L424.18 348.54L424.65 348.77L425.11 348.97L425.58 349.14L426.05 349.27L426.51 349.4L426.98 349.51L427.45 349.6L427.91 349.66L428.38 349.7L428.85 349.73L429.31 349.77L429.78 349.79L430.25 349.78L430.71 349.77L431.18 349.78L431.64 349.84L432.11 349.94L432.58 350.04L433.04 350.08L433.51 350.06L433.98 350L434.44 349.93L434.91 349.9L435.38 350.04L435.84 350.35L436.31 350.67L436.78 350.8L437.24 350.68L437.71 350.38L438.18 350.08L438.64 349.96L439.11 349.93L439.58 349.86L440.04 349.79L440.51 349.76L440.97 349.82L441.44 349.96L441.91 350.1L442.37 350.16L442.84 350.11L443.31 349.98L443.77 349.86L444.24 349.81L444.71 349.81L445.17 349.81L445.64 349.8L446.11 349.8L446.57 349.83L447.04 349.9L447.51 349.97L447.97 350L448.44 350.03L448.91 350.09L449.37 350.16L449.84 350.19L450.3 350.18L450.77 350.18L451.24 350.17L451.7 350.17L452.17 350.13L452.64 350.04L453.1 349.95L453.57 349.91L454.04 349.93L454.5 349.97L454.97 350.02L455.44 350.04L455.9 350.04L456.37 350.05L456.84 350.05L457.3 350.05L457.77 350.1L458.24 350.22L458.7 350.31L459.17 350.26L459.63 350L460.1 349.56L460.57 349.1L461.03 348.9L461.5 349.02L461.97 349.29L462.43 349.55L462.9 349.73L462.9 349.95L463.37 352.67L463.83 354.97L464.3 356.93L464.77 358.62L465.23 360.09L465.7 361.41L466.17 362.58L466.63 363.56L467.1 364.4L467.57 365.14L468.03 365.77L468.5 366.29L468.96 366.74L469.43 367.15L469.9 367.51L470.36 367.8L470.83 367.99L471.3 368.07L471.76 368.12L472.23 368.22L472.7 368.34L473.16 368.43L473.63 368.5L474.1 368.57L474.56 368.7L475.03 368.89L475.5 369.07L475.96 369.17L476.43 369.2L476.89 369.2L477.36 369.19L477.83 369.2L478.29 369.18L478.76 369.11L479.23 369.03L479.69 369.01L480.16 369.08L480.63 369.24L481.09 369.4L481.56 369.47L482.03 369.43L482.49 369.32L482.96 369.21L483.43 369.17L483.89 369.09L484.36 368.89L484.83 368.68L485.29 368.6L485.76 368.71L486.23 368.97L486.69 369.24L487.16 369.35L487.62 369.34L488.09 369.32L488.56 369.29L489.02 369.28L489.49 369.23L489.96 369.1L490.42 368.98L490.89 368.93L491.36 368.94L491.82 368.96L492.29 368.98L492.76 368.98L493.22 368.96L493.69 368.91L494.16 368.86L494.62 368.83L495.09 368.91L495.56 369.08L496.02 369.25L496.49 369.32L496.95 369.26L497.42 369.12L497.89 368.98L498.35 368.92L498.82 368.92L499.29 368.93L499.75 368.94L500.22 368.94L500.69 368.94L501.15 368.94L501.62 368.94L502.09 368.94L502.55 369.02L503.02 369.21L503.49 369.39L503.95 369.47L504.42 369.4L504.88 369.22L505.35 369.04L505.82 368.97L506.28 368.96L506.75 368.94L507.22 368.93L507.68 368.92L508.15 368.88L508.62 368.8L509.08 368.71L509.55 368.67L509.55 369.06L510.02 371.98L510.49 374.52L510.96 376.75L511.43 378.66L511.91 380.31L512.38 381.8L512.85 383.13L513.32 384.24L513.79 385.11L514.26 385.75L514.73 386.26L515.2 386.77L515.68 387.19L516.15 387.48L516.62 387.72L517.09 387.99L517.56 388.33L518.03 388.71L518.5 389.03L518.97 389.24L519.45 389.32L519.92 389.33L520.39 389.34L520.86 389.4L521.33 389.37L521.8 389.26L522.27 389.16L522.74 389.18L523.22 389.33L523.69 389.54L524.16 389.72L524.63 389.78L525.1 389.86L525.57 389.96L526.04 390.05L526.51 390.07L526.98 390.05L527.46 390L527.93 389.96L528.4 389.96L528.87 389.98L529.34 390L529.81 390.02L530.28 390.01L530.75 389.86L531.23 389.65L531.7 389.49L532.17 389.5L532.64 389.75L533.11 390.12L533.58 390.37L534.05 390.39L534.52 390.3L535 390.18L535.47 390.1L535.94 390.1L536.41 390.17L536.88 390.26L537.35 390.32L537.82 390.32L538.29 390.27L538.77 390.21L539.24 390.17L539.71 390.17L540.18 390.14L540.65 390.11L541.12 390.09L541.59 390.1L542.06 390.13L542.53 390.16L543.01 390.18L543.48 390.17L543.95 390.13L544.42 390.08L544.89 390.05L545.36 390.03L545.83 389.95L546.3 389.86L546.78 389.82L547.25 389.81L547.72 389.77L548.19 389.74L548.66 389.72L549.13 389.78L549.6 389.97L550.07 390.18L550.55 390.28L551.02 390.21L551.49 389.98L551.96 389.73L552.43 389.62L552.9 389.66L553.37 389.76L553.84 389.87L554.32 389.92L554.79 389.94L555.26 390.01L555.73 390.07L556.2 390.1L556.2 390.05L556.67 387.13L557.13 384.58L557.6 382.37L558.07 380.45L558.53 378.85L559 377.54L559.47 376.46L559.93 375.5L560.4 374.65L560.87 373.96L561.33 373.36L561.8 372.81L562.26 372.37L562.73 372.05L563.2 371.79L563.66 371.53L564.13 371.16L564.6 370.68L565.06 370.23L565.53 369.96L566 369.89L566.46 369.94L566.93 370.02L567.4 370L567.86 369.92L568.33 369.84L568.8 369.78L569.26 369.73L569.73 369.64L570.2 369.48L570.66 369.34L571.13 369.26L571.59 369.27L572.06 369.32L572.53 369.37L572.99 369.38L573.46 369.34L573.93 369.24L574.39 369.15L574.86 369.11L575.33 369.1L575.79 369.07L576.26 369.05L576.73 369.04L577.19 369.06L577.66 369.13L578.13 369.2L578.59 369.22L579.06 369.21L579.53 369.18L579.99 369.15L580.46 369.14L580.92 369.09L581.39 368.96L581.86 368.84L582.32 368.79L582.79 368.8L583.26 368.82L583.72 368.84L584.19 368.85L584.66 368.9L585.12 369.02L585.59 369.15L586.06 369.2L586.52 369.15L586.99 369.03L587.46 368.91L587.92 368.86L588.39 368.93L588.86 369.1L589.32 369.26L589.79 369.33L590.25 369.24L590.72 369.02L591.19 368.8L591.65 368.71L592.12 368.75L592.59 368.86L593.05 368.97L593.52 369.02L593.99 369.02L594.45 369.02L594.92 369.01L595.39 369.01L595.85 369.02L596.32 369.03L596.79 369.05L597.25 369.05L597.72 369.08L598.19 369.15L598.65 369.21L599.12 369.24L599.58 369.28L600.05 369.39L600.52 369.49L600.98 369.53L601.45 369.49L601.92 369.39L602.38 369.29L602.85 369.25L602.85 369.06L603.32 366.58L603.78 364.42L604.25 362.53L604.72 360.91L605.18 359.56L605.65 358.47L606.12 357.57L606.58 356.77L607.05 356.02L607.51 355.32L607.98 354.68L608.45 354.16L608.91 353.69L609.38 353.21L609.85 352.78L610.31 352.46L610.78 352.29L611.25 352.24L611.71 352.22L612.18 352.13L612.65 351.98L613.11 351.84L613.58 351.71L614.05 351.61L614.51 351.48L614.98 351.3L615.45 351.12L615.91 351.02L616.38 351L616.85 351.01L617.31 351.03L617.78 351.02L618.24 350.99L618.71 350.95L619.18 350.92L619.64 350.9L620.11 350.83L620.58 350.71L621.04 350.6L621.51 350.54L621.98 350.56L622.44 350.63L622.91 350.69L623.38 350.72L623.84 350.7L624.31 350.69L624.78 350.69L625.24 350.68L625.71 350.72L626.17 350.84L626.64 350.97L627.11 351.01L627.57 351.02L628.04 351.06L628.51 351.09L628.97 351.1L629.44 351.07L629.91 350.99L630.37 350.91L630.84 350.87L631.31 350.82L631.77 350.72L632.24 350.62L632.71 350.57L633.17 350.6L633.64 350.7L634.11 350.79L634.57 350.82L635.04 350.79L635.5 350.73L635.97 350.67L636.44 350.64L636.9 350.68L637.37 350.79L637.84 350.91L638.3 350.95L638.77 350.91L639.24 350.81L639.7 350.71L640.17 350.66L640.64 350.67L641.1 350.69L641.57 350.72L642.04 350.73L642.5 350.65L642.97 350.47L643.44 350.29L643.9 350.21L644.37 350.25L644.84 350.36L645.3 350.46L645.77 350.5L646.23 350.5L646.7 350.52L647.17 350.54L647.63 350.54L648.1 350.52L648.57 350.46L649.03 350.4L649.5 350.37L649.5 350.36L649.56 350.28L649.62 350.2L649.69 350.13L649.75 350.06L649.81 349.99L649.87 349.92L649.94 349.83L650 349.75L650.06 349.65L650.12 349.53L650.28 349.15L650.43 348.6L650.59 347.92L650.74 347.15L650.9 346.32L651.06 345.46L651.21 344.61L651.37 343.79L651.52 343.05L651.68 342.42L651.86 341.73L652.05 341.06L652.24 340.4L652.42 339.77L652.61 339.16L652.8 338.58L652.98 338.05L653.17 337.56L653.36 337.13L653.54 336.76L653.87 336.18L654.2 335.62L654.52 335.1L654.85 334.62L655.18 334.17L655.5 333.78L655.83 333.43L656.16 333.14L656.48 332.91L656.81 332.75L657.29 332.57L657.77 332.42L658.25 332.3L658.74 332.19L659.22 332.1L659.7 332.02L660.18 331.94L660.66 331.85L661.15 331.76L661.63 331.65L662.19 331.5L662.75 331.32L663.31 331.14L663.87 330.94L664.43 330.75L664.99 330.57L665.55 330.42L666.11 330.3L666.67 330.22L667.23 330.19L667.54 330.22L667.85 330.3L668.16 330.43L668.47 330.58L668.78 330.74L669.09 330.9L669.4 331.05L669.72 331.17L670.03 331.25L670.34 331.28L670.99 331.28L671.64 331.28L672.3 331.28L672.95 331.28L673.6 331.28L674.26 331.28L674.91 331.28L675.56 331.28L676.21 331.28L676.87 331.28L677.24 331.26L677.61 331.21L677.99 331.12L678.36 331L678.73 330.87L679.11 330.73L679.48 330.59L679.85 330.44L680.23 330.31L680.6 330.19" fill="none" stroke="#ff2a2a" stroke-width="1.4" stroke-linejoin="round" stroke-linecap="round"/>
<path d="M369.6 430.2L369.79 423.44L369.97 416.39L370.16 409.17L370.35 401.91L370.53 394.73L370.72 387.76L370.91 381.13L371.09 374.96L371.28 369.37L371.47 364.5L371.67 359.66L371.87 354.88L372.07 350.24L372.27 345.81L372.48 341.67L372.68 337.9L372.88 334.57L373.08 331.76L373.29 329.54L373.49 328L373.63 327.19L373.77 326.42L373.91 325.69L374.05 325.02L374.19 324.42L374.33 323.9L374.47 323.48L374.61 323.16L374.75 322.96L374.89 322.89L375.04 323.02L375.2 323.4L375.35 324L375.51 324.78L375.66 325.71L375.82 326.77L375.98 327.93L376.13 329.14L376.29 330.39L376.44 331.65L376.57 332.84L376.69 334.36L376.82 336.12L376.94 338.04L377.06 340.03L377.19 342.01L377.31 343.89L377.44 345.58L377.56 347.01L377.69 348.07L377.81 348.94L377.93 349.79L378.06 350.6L378.18 351.37L378.31 352.07L378.43 352.69L378.56 353.2L378.68 353.58L378.81 353.83L378.93 353.91L379.23 353.75L379.52 353.31L379.82 352.65L380.11 351.82L380.41 350.89L380.7 349.92L381 348.96L381.29 348.08L381.59 347.34L381.88 346.8L382.37 346.1L382.85 345.41L383.33 344.75L383.81 344.12L384.29 343.55L384.78 343.05L385.26 342.64L385.74 342.32L386.22 342.12L386.71 342.05L387.09 342.14L387.48 342.38L387.87 342.72L388.26 343.14L388.65 343.6L389.04 344.06L389.43 344.48L389.81 344.83L390.2 345.07L390.59 345.15L390.92 345.1L391.25 344.93L391.57 344.68L391.9 344.37L392.23 344.02L392.55 343.65L392.88 343.29L393.2 342.94L393.53 342.65L393.86 342.42L394.42 342.09L394.98 341.76L395.54 341.43L396.1 341.12L396.66 340.83L397.22 340.57L397.78 340.35L398.34 340.19L398.9 340.08L399.46 340.04L399.74 340.12L400.02 340.33L400.3 340.64L400.58 341.01L400.86 341.41L401.14 341.82L401.42 342.19L401.7 342.5L401.98 342.71L402.25 342.78L402.53 342.74L402.81 342.61L403.09 342.42L403.37 342.18L403.65 341.9L403.93 341.6L404.21 341.28L404.49 340.97L404.77 340.67L405.05 340.41L405.32 340.17L405.58 339.91L405.85 339.64L406.11 339.37L406.38 339.1L406.64 338.84L406.9 338.59L407.17 338.37L407.43 338.19L407.7 338.04L408.51 337.68L409.31 337.37L410.12 337.1L410.93 336.87L411.74 336.66L412.55 336.47L413.36 336.28L414.17 336.09L414.97 335.89L415.78 335.66L416.25 335.66L416.72 338.17L417.18 340.32L417.65 342.17L418.12 343.76L418.58 345.14L419.05 346.35L419.52 347.4L419.98 348.31L420.45 349.04L420.92 349.6L421.38 350.06L421.85 350.5L422.31 350.87L422.78 351.11L423.25 351.31L423.71 351.53L424.18 351.78L424.65 352.05L425.11 352.29L425.58 352.47L426.05 352.64L426.51 352.87L426.98 353.08L427.45 353.2L427.91 353.25L428.38 353.26L428.85 353.27L429.31 353.29L429.78 353.32L430.25 353.35L430.71 353.37L431.18 353.39L431.64 353.48L432.11 353.67L432.58 353.86L433.04 353.94L433.51 353.91L433.98 353.8L434.44 353.69L434.91 353.65L435.38 353.61L435.84 353.51L436.31 353.4L436.78 353.36L437.24 353.41L437.71 353.53L438.18 353.65L438.64 353.7L439.11 353.73L439.58 353.78L440.04 353.84L440.51 353.86L440.97 353.8L441.44 353.66L441.91 353.52L442.37 353.46L442.84 353.45L443.31 353.44L443.77 353.43L444.24 353.43L444.71 353.4L445.17 353.34L445.64 353.28L446.11 353.26L446.57 353.27L447.04 353.28L447.51 353.29L447.97 353.29L448.44 353.34L448.91 353.47L449.37 353.6L449.84 353.66L450.3 353.66L450.77 353.67L451.24 353.68L451.7 353.69L452.17 353.63L452.64 353.5L453.1 353.36L453.57 353.3L454.04 353.32L454.5 353.36L454.97 353.4L455.44 353.42L455.9 353.43L456.37 353.45L456.84 353.47L457.3 353.48L457.77 353.5L458.24 353.56L458.7 353.61L459.17 353.63L459.63 353.63L460.1 353.63L460.57 353.63L461.03 353.64L461.5 353.56L461.97 353.38L462.43 353.2L462.9 353.13L462.9 353.55L463.37 356.13L463.83 358.39L464.3 360.37L464.77 362.07L465.23 363.49L465.7 364.66L466.17 365.63L466.63 366.49L467.1 367.28L467.57 368L468.03 368.65L468.5 369.17L468.96 369.62L469.43 370.01L469.9 370.36L470.36 370.64L470.83 370.88L471.3 371.09L471.76 371.26L472.23 371.41L472.7 371.54L473.16 371.66L473.63 371.75L474.1 371.84L474.56 371.89L475.03 371.9L475.5 371.9L475.96 371.92L476.43 371.95L476.89 371.96L477.36 371.97L477.83 371.99L478.29 372.06L478.76 372.19L479.23 372.33L479.69 372.39L480.16 372.41L480.63 372.43L481.09 372.45L481.56 372.46L482.03 372.44L482.49 372.38L482.96 372.32L483.43 372.3L483.89 372.37L484.36 372.54L484.83 372.71L485.29 372.78L485.76 372.74L486.23 372.66L486.69 372.57L487.16 372.53L487.62 372.53L488.09 372.52L488.56 372.51L489.02 372.51L489.49 372.51L489.96 372.52L490.42 372.53L490.89 372.54L491.36 372.53L491.82 372.52L492.29 372.51L492.76 372.51L493.22 372.48L493.69 372.41L494.16 372.34L494.62 372.31L495.09 372.33L495.56 372.39L496.02 372.45L496.49 372.48L496.95 372.43L497.42 372.32L497.89 372.21L498.35 372.16L498.82 372.19L499.29 372.26L499.75 372.33L500.22 372.36L500.69 372.43L501.15 372.58L501.62 372.74L502.09 372.8L502.55 372.73L503.02 372.55L503.49 372.37L503.95 372.3L504.42 372.29L504.88 372.28L505.35 372.26L505.82 372.25L506.28 372.25L506.75 372.23L507.22 372.21L507.68 372.2L508.15 372.23L508.62 372.3L509.08 372.38L509.55 372.41L509.55 372.35L510.02 374.97L510.49 377.23L510.96 379.18L511.43 380.86L511.91 382.27L512.38 383.41L512.85 384.36L513.32 385.2L513.79 386.02L514.26 386.84L514.73 387.57L515.2 388.12L515.68 388.58L516.15 389.01L516.62 389.38L517.09 389.67L517.56 389.82L518.03 389.86L518.5 389.89L518.97 390L519.45 390.1L519.92 390.17L520.39 390.23L520.86 390.3L521.33 390.4L521.8 390.5L522.27 390.59L522.74 390.65L523.22 390.74L523.69 390.87L524.16 390.98L524.63 391.02L525.1 390.99L525.57 390.92L526.04 390.87L526.51 390.88L526.98 390.95L527.46 391.06L527.93 391.15L528.4 391.16L528.87 391.09L529.34 390.97L529.81 390.89L530.28 390.88L530.75 390.93L531.23 390.99L531.7 391.04L532.17 391.03L532.64 390.88L533.11 390.68L533.58 390.54L534.05 390.54L534.52 390.66L535 390.82L535.47 390.93L535.94 390.95L536.41 390.98L536.88 391.02L537.35 391.05L537.82 391.03L538.29 390.87L538.77 390.67L539.24 390.55L539.71 390.55L540.18 390.63L540.65 390.73L541.12 390.79L541.59 390.8L542.06 390.83L542.53 390.85L543.01 390.87L543.48 390.89L543.95 390.98L544.42 391.09L544.89 391.15L545.36 391.11L545.83 390.94L546.3 390.75L546.78 390.65L547.25 390.69L547.72 390.84L548.19 391.01L548.66 391.09L549.13 391.11L549.6 391.14L550.07 391.17L550.55 391.19L551.02 391.16L551.49 391.07L551.96 390.98L552.43 390.93L552.9 390.91L553.37 390.86L553.84 390.81L554.32 390.78L554.79 390.83L555.26 390.97L555.73 391.1L556.2 391.16L556.2 390.96L556.67 388.48L557.13 386.3L557.6 384.37L558.07 382.7L558.53 381.32L559 380.21L559.47 379.3L559.93 378.48L560.4 377.75L560.87 377.14L561.33 376.62L561.8 376.15L562.26 375.75L562.73 375.42L563.2 375.13L563.66 374.87L564.13 374.59L564.6 374.25L565.06 373.94L565.53 373.74L566 373.6L566.46 373.46L566.93 373.34L567.4 373.25L567.86 373.23L568.33 373.28L568.8 373.35L569.26 373.35L569.73 373.23L570.2 373.01L570.66 372.8L571.13 372.69L571.59 372.74L572.06 372.88L572.53 373.02L572.99 373.07L573.46 373.05L573.93 373.01L574.39 372.97L574.86 372.95L575.33 372.96L575.79 373L576.26 373.03L576.73 373.05L577.19 373.01L577.66 372.92L578.13 372.83L578.59 372.79L579.06 372.86L579.53 373.02L579.99 373.18L580.46 373.24L580.92 373.21L581.39 373.14L581.86 373.07L582.32 373.04L582.79 373.07L583.26 373.15L583.72 373.23L584.19 373.26L584.66 373.26L585.12 373.26L585.59 373.26L586.06 373.26L586.52 373.23L586.99 373.17L587.46 373.1L587.92 373.07L588.39 373.02L588.86 372.9L589.32 372.78L589.79 372.74L590.25 372.79L590.72 372.92L591.19 373.06L591.65 373.11L592.12 373.13L592.59 373.16L593.05 373.2L593.52 373.22L593.99 373.2L594.45 373.15L594.92 373.1L595.39 373.08L595.85 373.06L596.32 373.02L596.79 372.98L597.25 372.96L597.72 372.93L598.19 372.87L598.65 372.81L599.12 372.78L599.58 372.84L600.05 372.97L600.52 373.1L600.98 373.16L601.45 373.2L601.92 373.3L602.38 373.4L602.85 373.45L602.85 373.08L603.32 370.48L603.78 368.21L604.25 366.21L604.72 364.48L605.18 363.05L605.65 361.89L606.12 360.93L606.58 360.08L607.05 359.3L607.51 358.63L607.98 358.03L608.45 357.51L608.91 357.09L609.38 356.72L609.85 356.42L610.31 356.14L610.78 355.85L611.25 355.5L611.71 355.19L612.18 354.98L612.65 354.9L613.11 354.91L613.58 354.95L614.05 354.91L614.51 354.84L614.98 354.78L615.45 354.72L615.91 354.67L616.38 354.63L616.85 354.61L617.31 354.58L617.78 354.56L618.24 354.48L618.71 354.34L619.18 354.19L619.64 354.13L620.11 354.13L620.58 354.16L621.04 354.18L621.51 354.19L621.98 354.19L622.44 354.22L622.91 354.25L623.38 354.26L623.84 354.22L624.31 354.13L624.78 354.04L625.24 354L625.71 353.99L626.17 353.95L626.64 353.92L627.11 353.9L627.57 353.92L628.04 353.97L628.51 354.03L628.97 354.05L629.44 354.06L629.91 354.07L630.37 354.08L630.84 354.09L631.31 354.12L631.77 354.21L632.24 354.29L632.71 354.32L633.17 354.32L633.64 354.3L634.11 354.29L634.57 354.28L635.04 354.27L635.5 354.25L635.97 354.22L636.44 354.21L636.9 354.14L637.37 353.97L637.84 353.8L638.3 353.73L638.77 353.82L639.24 354.06L639.7 354.29L640.17 354.39L640.64 354.29L641.1 354.06L641.57 353.83L642.04 353.74L642.5 353.79L642.97 353.94L643.44 354.08L643.9 354.14L644.37 354.14L644.84 354.16L645.3 354.18L645.77 354.19L646.23 354.18L646.7 354.16L647.17 354.14L647.63 354.13L648.1 354.09L648.57 354L649.03 353.92L649.5 353.88L649.5 354.1L649.56 354.05L649.62 354L649.69 353.95L649.75 353.9L649.81 353.86L649.87 353.81L649.94 353.75L650 353.69L650.06 353.63L650.12 353.55L650.31 353.18L650.5 352.58L650.68 351.8L650.87 350.9L651.06 349.92L651.24 348.91L651.43 347.91L651.61 346.98L651.8 346.17L651.99 345.52L652.24 344.8L652.49 344.12L652.73 343.47L652.98 342.85L653.23 342.28L653.48 341.74L653.73 341.25L653.98 340.8L654.23 340.4L654.48 340.04L654.79 339.64L655.1 339.26L655.41 338.9L655.72 338.56L656.03 338.25L656.34 337.97L656.65 337.71L656.96 337.49L657.28 337.29L657.59 337.12L657.99 336.93L658.39 336.74L658.8 336.56L659.2 336.39L659.61 336.24L660.01 336.11L660.42 336L660.82 335.92L661.22 335.87L661.63 335.85L662.27 335.85L662.9 335.87L663.54 335.89L664.18 335.91L664.82 335.94L665.45 335.97L666.09 335.99L666.73 336.01L667.37 336.02L668 336.03L668.41 336.02L668.81 335.98L669.22 335.92L669.62 335.85L670.03 335.78L670.43 335.7L670.83 335.62L671.24 335.56L671.64 335.51L672.05 335.48L672.9 335.45L673.76 335.43L674.61 335.4L675.47 335.39L676.32 335.37L677.18 335.36L678.03 335.34L678.89 335.33L679.74 335.32L680.6 335.3" fill="none" stroke="#2e9a2e" stroke-width="1.45" stroke-linejoin="round" stroke-linecap="round"/>
<path d="M369.6 430.2L370.07 409.66L370.53 391.98L371 376.76L371.47 363.67L371.93 352.4L372.4 342.69L372.87 334.34L373.33 327.15L373.8 320.97L374.27 315.64L374.73 311.06L375.2 307.11L375.66 303.72L376.13 300.8L376.6 298.28L377.06 296.12L377.53 294.25L378 292.65L378.46 291.27L378.93 290.08L379.4 289.06L379.86 288.18L380.33 287.42L380.8 286.77L381.26 286.21L381.73 285.72L382.2 285.31L382.66 284.95L383.13 284.64L383.6 284.38L384.06 284.15L384.53 283.95L384.99 283.78L385.46 283.64L385.93 283.51L386.39 283.41L386.86 283.31L387.33 283.23L387.79 283.16L388.26 283.11L388.73 283.05L389.19 283.01L389.66 282.97L390.13 282.94L390.59 282.91L391.06 282.89L391.53 282.87L391.99 282.85L392.46 282.83L392.93 282.82L393.39 282.81L393.86 282.8L394.32 282.79L394.79 282.78L395.26 282.78L395.72 282.77L396.19 282.77L396.66 282.76L397.12 282.76L397.59 282.76L398.06 282.76L398.52 282.75L398.99 282.75L399.46 282.75L399.92 282.75L400.39 282.75L400.86 282.75L401.32 282.75L401.79 282.74L402.25 282.74L402.72 282.74L403.19 282.74L403.65 282.74L404.12 282.74L404.59 282.74L405.05 282.74L405.52 282.74L405.99 282.74L406.45 282.74L406.92 282.74L407.39 282.74L407.85 282.74L408.32 282.74L408.79 282.74L409.25 282.74L409.72 282.74L410.19 282.74L410.65 282.74L411.12 282.74L411.59 282.74L412.05 282.74L412.52 282.74L412.98 282.74L413.45 282.74L413.92 282.74L414.38 282.74L414.85 282.74L415.32 282.74L415.78 282.74L416.25 282.74L416.72 286.27L417.18 289.31L417.65 291.93L418.12 294.19L418.58 296.12L419.05 297.79L419.52 299.23L419.98 300.47L420.45 301.53L420.92 302.45L421.38 303.24L421.85 303.91L422.31 304.5L422.78 305L423.25 305.43L423.71 305.81L424.18 306.13L424.65 306.4L425.11 306.64L425.58 306.84L426.05 307.02L426.51 307.17L426.98 307.3L427.45 307.41L427.91 307.51L428.38 307.59L428.85 307.67L429.31 307.73L429.78 307.78L430.25 307.83L430.71 307.86L431.18 307.9L431.64 307.93L432.11 307.95L432.58 307.97L433.04 307.99L433.51 308.01L433.98 308.02L434.44 308.03L434.91 308.04L435.38 308.05L435.84 308.06L436.31 308.07L436.78 308.07L437.24 308.08L437.71 308.08L438.18 308.09L438.64 308.09L439.11 308.09L439.58 308.09L440.04 308.1L440.51 308.1L440.97 308.1L441.44 308.1L441.91 308.1L442.37 308.1L442.84 308.1L443.31 308.1L443.77 308.1L444.24 308.1L444.71 308.1L445.17 308.11L445.64 308.11L446.11 308.11L446.57 308.11L447.04 308.11L447.51 308.11L447.97 308.11L448.44 308.11L448.91 308.11L449.37 308.11L449.84 308.11L450.3 308.11L450.77 308.11L451.24 308.11L451.7 308.11L452.17 308.11L452.64 308.11L453.1 308.11L453.57 308.11L454.04 308.11L454.5 308.11L454.97 308.11L455.44 308.11L455.9 308.11L456.37 308.11L456.84 308.11L457.3 308.11L457.77 308.11L458.24 308.11L458.7 308.11L459.17 308.11L459.63 308.11L460.1 308.11L460.57 308.11L461.03 308.11L461.5 308.11L461.97 308.11L462.43 308.11L462.9 308.11L463.37 312.17L463.83 315.68L464.3 318.69L464.77 321.28L465.23 323.51L465.7 325.44L466.17 327.09L466.63 328.51L467.1 329.74L467.57 330.79L468.03 331.7L468.5 332.48L468.96 333.15L469.43 333.73L469.9 334.23L470.36 334.66L470.83 335.03L471.3 335.35L471.76 335.62L472.23 335.85L472.7 336.06L473.16 336.23L473.63 336.38L474.1 336.51L474.56 336.62L475.03 336.72L475.5 336.8L475.96 336.87L476.43 336.93L476.89 336.98L477.36 337.03L477.83 337.07L478.29 337.1L478.76 337.13L479.23 337.15L479.69 337.18L480.16 337.19L480.63 337.21L481.09 337.22L481.56 337.24L482.03 337.25L482.49 337.25L482.96 337.26L483.43 337.27L483.89 337.27L484.36 337.28L484.83 337.28L485.29 337.29L485.76 337.29L486.23 337.29L486.69 337.29L487.16 337.3L487.62 337.3L488.09 337.3L488.56 337.3L489.02 337.3L489.49 337.3L489.96 337.3L490.42 337.3L490.89 337.3L491.36 337.3L491.82 337.3L492.29 337.31L492.76 337.31L493.22 337.31L493.69 337.31L494.16 337.31L494.62 337.31L495.09 337.31L495.56 337.31L496.02 337.31L496.49 337.31L496.95 337.31L497.42 337.31L497.89 337.31L498.35 337.31L498.82 337.31L499.29 337.31L499.75 337.31L500.22 337.31L500.69 337.31L501.15 337.31L501.62 337.31L502.09 337.31L502.55 337.31L503.02 337.31L503.49 337.31L503.95 337.31L504.42 337.31L504.88 337.31L505.35 337.31L505.82 337.31L506.28 337.31L506.75 337.31L507.22 337.31L507.68 337.31L508.15 337.31L508.62 337.31L509.08 337.31L509.55 337.31L510.02 341.9L510.49 345.85L510.96 349.24L511.43 352.16L511.91 354.66L512.38 356.81L512.85 358.66L513.32 360.25L513.79 361.62L514.26 362.8L514.73 363.8L515.2 364.67L515.68 365.42L516.15 366.06L516.62 366.61L517.09 367.08L517.56 367.49L518.03 367.84L518.5 368.14L518.97 368.4L519.45 368.62L519.92 368.81L520.39 368.97L520.86 369.11L521.33 369.24L521.8 369.34L522.27 369.43L522.74 369.51L523.22 369.57L523.69 369.63L524.16 369.68L524.63 369.72L525.1 369.75L525.57 369.79L526.04 369.81L526.51 369.84L526.98 369.85L527.46 369.87L527.93 369.89L528.4 369.9L528.87 369.91L529.34 369.92L529.81 369.93L530.28 369.93L530.75 369.94L531.23 369.94L531.7 369.95L532.17 369.95L532.64 369.96L533.11 369.96L533.58 369.96L534.05 369.96L534.52 369.96L535 369.97L535.47 369.97L535.94 369.97L536.41 369.97L536.88 369.97L537.35 369.97L537.82 369.97L538.29 369.97L538.77 369.97L539.24 369.97L539.71 369.97L540.18 369.97L540.65 369.97L541.12 369.97L541.59 369.97L542.06 369.97L542.53 369.97L543.01 369.97L543.48 369.97L543.95 369.97L544.42 369.97L544.89 369.97L545.36 369.97L545.83 369.97L546.3 369.97L546.78 369.97L547.25 369.97L547.72 369.97L548.19 369.97L548.66 369.97L549.13 369.97L549.6 369.97L550.07 369.97L550.55 369.97L551.02 369.97L551.49 369.97L551.96 369.97L552.43 369.97L552.9 369.97L553.37 369.97L553.84 369.97L554.32 369.97L554.79 369.97L555.26 369.97L555.73 369.97L556.2 369.97L556.67 365.48L557.13 361.6L557.6 358.27L558.07 355.4L558.53 352.93L559 350.81L559.47 348.98L559.93 347.4L560.4 346.05L560.87 344.88L561.33 343.88L561.8 343.01L562.26 342.27L562.73 341.63L563.2 341.08L563.66 340.6L564.13 340.19L564.6 339.84L565.06 339.54L565.53 339.28L566 339.06L566.46 338.86L566.93 338.7L567.4 338.56L567.86 338.43L568.33 338.33L568.8 338.24L569.26 338.16L569.73 338.09L570.2 338.03L570.66 337.98L571.13 337.94L571.59 337.9L572.06 337.87L572.53 337.84L572.99 337.82L573.46 337.8L573.93 337.78L574.39 337.77L574.86 337.75L575.33 337.74L575.79 337.73L576.26 337.72L576.73 337.72L577.19 337.71L577.66 337.71L578.13 337.7L578.59 337.7L579.06 337.69L579.53 337.69L579.99 337.69L580.46 337.69L580.92 337.68L581.39 337.68L581.86 337.68L582.32 337.68L582.79 337.68L583.26 337.68L583.72 337.68L584.19 337.68L584.66 337.68L585.12 337.68L585.59 337.68L586.06 337.67L586.52 337.67L586.99 337.67L587.46 337.67L587.92 337.67L588.39 337.67L588.86 337.67L589.32 337.67L589.79 337.67L590.25 337.67L590.72 337.67L591.19 337.67L591.65 337.67L592.12 337.67L592.59 337.67L593.05 337.67L593.52 337.67L593.99 337.67L594.45 337.67L594.92 337.67L595.39 337.67L595.85 337.67L596.32 337.67L596.79 337.67L597.25 337.67L597.72 337.67L598.19 337.67L598.65 337.67L599.12 337.67L599.58 337.67L600.05 337.67L600.52 337.67L600.98 337.67L601.45 337.67L601.92 337.67L602.38 337.67L602.85 337.67L603.32 333.53L603.78 329.96L604.25 326.89L604.72 324.25L605.18 321.98L605.65 320.02L606.12 318.33L606.58 316.88L607.05 315.64L607.51 314.56L607.98 313.64L608.45 312.84L608.91 312.16L609.38 311.57L609.85 311.06L610.31 310.62L610.78 310.25L611.25 309.92L611.71 309.65L612.18 309.41L612.65 309.2L613.11 309.02L613.58 308.87L614.05 308.74L614.51 308.62L614.98 308.53L615.45 308.44L615.91 308.37L616.38 308.31L616.85 308.26L617.31 308.21L617.78 308.17L618.24 308.14L618.71 308.11L619.18 308.08L619.64 308.06L620.11 308.04L620.58 308.02L621.04 308.01L621.51 308L621.98 307.99L622.44 307.98L622.91 307.97L623.38 307.97L623.84 307.96L624.31 307.95L624.78 307.95L625.24 307.95L625.71 307.94L626.17 307.94L626.64 307.94L627.11 307.94L627.57 307.94L628.04 307.93L628.51 307.93L628.97 307.93L629.44 307.93L629.91 307.93L630.37 307.93L630.84 307.93L631.31 307.93L631.77 307.93L632.24 307.93L632.71 307.93L633.17 307.93L633.64 307.93L634.11 307.93L634.57 307.93L635.04 307.93L635.5 307.93L635.97 307.93L636.44 307.93L636.9 307.93L637.37 307.93L637.84 307.93L638.3 307.93L638.77 307.93L639.24 307.93L639.7 307.93L640.17 307.93L640.64 307.93L641.1 307.93L641.57 307.93L642.04 307.93L642.5 307.93L642.97 307.93L643.44 307.93L643.9 307.93L644.37 307.93L644.84 307.93L645.3 307.93L645.77 307.93L646.23 307.93L646.7 307.93L647.17 307.93L647.63 307.93L648.1 307.93L648.57 307.93L649.03 307.93L649.5 307.93L649.97 304.41L650.44 301.39L650.91 298.79L651.38 296.56L651.86 294.64L652.33 293L652.8 291.58L653.27 290.36L653.74 289.32L654.21 288.42L654.68 287.64L655.15 286.98L655.63 286.41L656.1 285.92L656.57 285.5L657.04 285.14L657.51 284.83L657.98 284.56L658.45 284.33L658.92 284.13L659.4 283.96L659.87 283.81L660.34 283.69L660.81 283.58L661.28 283.49L661.75 283.41L662.22 283.34L662.69 283.28L663.17 283.23L663.64 283.19L664.11 283.15L664.58 283.12L665.05 283.09L665.52 283.07L665.99 283.05L666.46 283.03L666.93 283.01L667.41 283L667.88 282.99L668.35 282.98L668.82 282.97L669.29 282.97L669.76 282.96L670.23 282.95L670.7 282.95L671.18 282.95L671.65 282.94L672.12 282.94L672.59 282.94L673.06 282.94L673.53 282.93L674 282.93L674.47 282.93L674.95 282.93L675.42 282.93L675.89 282.93L676.36 282.93L676.83 282.93L677.3 282.93L677.77 282.93L678.24 282.92L678.72 282.92L679.19 282.92L679.66 282.92L680.13 282.92L680.6 282.92" fill="none" stroke="#0000ff" stroke-width="2.45" stroke-linejoin="round" stroke-linecap="round"/>
<line x1="369.60" y1="264.40" x2="680.60" y2="264.40" stroke="#777" stroke-width="1.25" stroke-linecap="square"/>
<line x1="369.60" y1="264.40" x2="369.60" y2="448.40" stroke="#666" stroke-width="1.25" stroke-linecap="square"/>
<line x1="680.60" y1="264.40" x2="680.60" y2="448.40" stroke="#777" stroke-width="1.25" stroke-linecap="square"/>
<line x1="369.60" y1="448.40" x2="680.60" y2="448.40" stroke="#666" stroke-width="1.3" stroke-linecap="square"/>
<rect x="554.60" y="392.50" width="126.00" height="55.90" fill="#fff" stroke="#3a3a3a" stroke-width="1"/>
<line x1="558.00" y1="400.50" x2="590.80" y2="400.50" stroke="#0000ff" stroke-width="2.3"/>
<text x="594.00" y="404.74" font-size="10.1">Proposed Method</text>
<line x1="558.00" y1="414.00" x2="590.80" y2="414.00" stroke="#2e9a2e" stroke-width="1.6"/>
<text x="594.00" y="418.24" font-size="10.1">CUSA</text>
<line x1="558.00" y1="428.20" x2="590.80" y2="428.20" stroke="#ff2a2a" stroke-width="1.5"/>
<text x="594.00" y="432.44" font-size="10.1">GWO</text>
<line x1="558.00" y1="442.00" x2="590.80" y2="442.00" stroke="#ff00ff" stroke-width="1.5"/>
<text x="594.00" y="446.24" font-size="10.1">PSO</text>
<text x="364.80" y="435.46" font-size="11" text-anchor="end">0</text>
<text x="364.80" y="398.96" font-size="11" text-anchor="end">2</text>
<text x="364.80" y="362.46" font-size="11" text-anchor="end">4</text>
<text x="364.80" y="325.96" font-size="11" text-anchor="end">6</text>
<text x="364.80" y="289.46" font-size="11" text-anchor="end">8</text>
<text x="369.60" y="465.30" font-size="11" text-anchor="middle">0</text>
<text x="447.35" y="465.30" font-size="11" text-anchor="middle">0.5</text>
<text x="525.10" y="465.30" font-size="11" text-anchor="middle">1</text>
<text x="602.85" y="465.30" font-size="11" text-anchor="middle">1.5</text>
<text x="680.60" y="465.30" font-size="11" text-anchor="middle">2</text>
<text x="527.70" y="481.20" font-size="12.5" text-anchor="middle">Time (sec)</text>
<text transform="translate(351.20 356.00) rotate(-90)" font-size="13" text-anchor="middle" class="yl">PV Current (A)</text>
<text x="484.50" y="496.90" font-size="13.5" text-anchor="middle" class="cap">(iii)</text>
</svg>
</body></html>
